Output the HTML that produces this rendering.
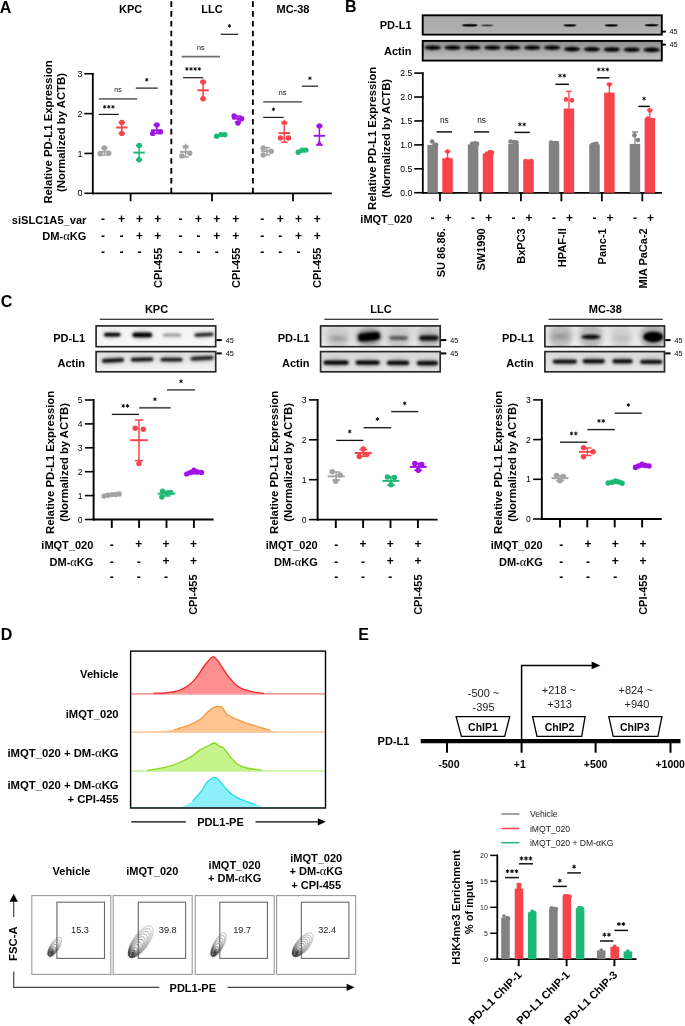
<!DOCTYPE html><html><head><meta charset="utf-8"><style>html,body{margin:0;padding:0;background:#fff;}svg{display:block;will-change:transform;filter:blur(0.3px);} text{font-family:"Liberation Sans",sans-serif;}</style></head><body><svg width="685" height="1026" viewBox="0 0 685 1026">
<defs><filter id="b1" x="-50%" y="-100%" width="200%" height="300%"><feGaussianBlur stdDeviation="1.2"/></filter><filter id="b2" x="-50%" y="-100%" width="200%" height="300%"><feGaussianBlur stdDeviation="2"/></filter><filter id="b4" x="-50%" y="-100%" width="200%" height="300%"><feGaussianBlur stdDeviation="0.55"/></filter><filter id="b3" x="-50%" y="-100%" width="200%" height="300%"><feGaussianBlur stdDeviation="0.8"/></filter></defs>
<rect width="685" height="1026" fill="#fff"/>
<text x="-0.30" y="12.60" font-family="Liberation Sans" font-weight="bold" font-size="16" text-anchor="start" fill="#000" >A</text>
<text x="130.60" y="12.75" font-family="Liberation Sans" font-weight="bold" font-size="11" text-anchor="middle" fill="#000" >KPC</text>
<text x="212.00" y="12.75" font-family="Liberation Sans" font-weight="bold" font-size="11" text-anchor="middle" fill="#000" >LLC</text>
<text x="293.00" y="12.75" font-family="Liberation Sans" font-weight="bold" font-size="11" text-anchor="middle" fill="#000" >MC-38</text>
<line x1="171.30" y1="1.30" x2="171.30" y2="193.40" stroke="#000" stroke-width="1.9" stroke-dasharray="5.6,4.21"/>
<line x1="252.90" y1="1.30" x2="252.90" y2="193.40" stroke="#000" stroke-width="1.9" stroke-dasharray="5.6,4.21"/>
<line x1="92.80" y1="73.00" x2="92.80" y2="194.20" stroke="#000" stroke-width="1.8" />
<line x1="92.00" y1="193.40" x2="331.80" y2="193.40" stroke="#000" stroke-width="1.8" />
<line x1="84.30" y1="193.30" x2="93.50" y2="193.30" stroke="#000" stroke-width="1.6" />
<text x="82.60" y="196.45" font-family="Liberation Sans" font-size="9" text-anchor="end" fill="#000" >0</text>
<line x1="84.30" y1="153.45" x2="93.50" y2="153.45" stroke="#000" stroke-width="1.6" />
<text x="82.60" y="156.60" font-family="Liberation Sans" font-size="9" text-anchor="end" fill="#000" >1</text>
<line x1="84.30" y1="113.60" x2="93.50" y2="113.60" stroke="#000" stroke-width="1.6" />
<text x="82.60" y="116.75" font-family="Liberation Sans" font-size="9" text-anchor="end" fill="#000" >2</text>
<line x1="84.30" y1="73.75" x2="93.50" y2="73.75" stroke="#000" stroke-width="1.6" />
<text x="82.60" y="76.90" font-family="Liberation Sans" font-size="9" text-anchor="end" fill="#000" >3</text>
<line x1="130.60" y1="193.40" x2="130.60" y2="201.20" stroke="#000" stroke-width="1.8" />
<line x1="212.00" y1="193.40" x2="212.00" y2="201.20" stroke="#000" stroke-width="1.8" />
<line x1="293.00" y1="193.40" x2="293.00" y2="201.20" stroke="#000" stroke-width="1.8" />
<text transform="translate(48.10,132.00) rotate(-90)" x="0" y="3.96" font-family="Liberation Sans" font-weight="bold" font-size="11.3" text-anchor="middle" fill="#000">Relative PD-L1 Expression</text>
<text transform="translate(61.00,132.50) rotate(-90)" x="0" y="3.96" font-family="Liberation Sans" font-weight="bold" font-size="11.3" text-anchor="middle" fill="#000">(Normalized by ACTB)</text>
<line x1="104.40" y1="148.00" x2="104.40" y2="155.00" stroke="#a3a3a3" stroke-width="1.5" />
<line x1="101.20" y1="148.00" x2="107.60" y2="148.00" stroke="#a3a3a3" stroke-width="1.5" />
<line x1="101.20" y1="155.00" x2="107.60" y2="155.00" stroke="#a3a3a3" stroke-width="1.5" />
<circle cx="104.40" cy="147.90" r="2.70" fill="#a3a3a3"/>
<circle cx="100.10" cy="153.80" r="2.70" fill="#a3a3a3"/>
<circle cx="108.80" cy="153.30" r="2.70" fill="#a3a3a3"/>
<line x1="98.70" y1="151.80" x2="110.10" y2="151.80" stroke="#a3a3a3" stroke-width="1.9500000000000002" />
<line x1="121.80" y1="122.40" x2="121.80" y2="133.40" stroke="#f7434a" stroke-width="1.5" />
<line x1="118.60" y1="122.40" x2="125.00" y2="122.40" stroke="#f7434a" stroke-width="1.5" />
<line x1="118.60" y1="133.40" x2="125.00" y2="133.40" stroke="#f7434a" stroke-width="1.5" />
<circle cx="121.80" cy="122.40" r="2.70" fill="#f7434a"/>
<circle cx="121.80" cy="133.40" r="2.70" fill="#f7434a"/>
<line x1="116.10" y1="127.50" x2="127.50" y2="127.50" stroke="#f7434a" stroke-width="1.9500000000000002" />
<line x1="139.10" y1="145.50" x2="139.10" y2="159.80" stroke="#1fb976" stroke-width="1.5" />
<line x1="135.90" y1="145.50" x2="142.30" y2="145.50" stroke="#1fb976" stroke-width="1.5" />
<line x1="135.90" y1="159.80" x2="142.30" y2="159.80" stroke="#1fb976" stroke-width="1.5" />
<circle cx="139.10" cy="145.50" r="2.70" fill="#1fb976"/>
<circle cx="139.10" cy="159.80" r="2.70" fill="#1fb976"/>
<line x1="133.40" y1="152.60" x2="144.80" y2="152.60" stroke="#1fb976" stroke-width="1.9500000000000002" />
<line x1="156.80" y1="124.70" x2="156.80" y2="133.40" stroke="#a112e6" stroke-width="1.5" />
<line x1="153.60" y1="124.70" x2="160.00" y2="124.70" stroke="#a112e6" stroke-width="1.5" />
<line x1="153.60" y1="133.40" x2="160.00" y2="133.40" stroke="#a112e6" stroke-width="1.5" />
<circle cx="156.80" cy="124.90" r="2.70" fill="#a112e6"/>
<circle cx="152.70" cy="133.40" r="2.70" fill="#a112e6"/>
<circle cx="160.40" cy="131.90" r="2.70" fill="#a112e6"/>
<line x1="151.10" y1="130.30" x2="162.50" y2="130.30" stroke="#a112e6" stroke-width="1.9500000000000002" />
<line x1="185.60" y1="146.10" x2="185.60" y2="157.00" stroke="#a3a3a3" stroke-width="1.5" />
<line x1="182.40" y1="146.10" x2="188.80" y2="146.10" stroke="#a3a3a3" stroke-width="1.5" />
<line x1="182.40" y1="157.00" x2="188.80" y2="157.00" stroke="#a3a3a3" stroke-width="1.5" />
<path d="M185.60,143.26 L188.86,148.51 L182.34,148.51 Z" fill="#a3a3a3"/>
<circle cx="181.80" cy="156.00" r="2.70" fill="#a3a3a3"/>
<circle cx="189.80" cy="153.20" r="2.70" fill="#a3a3a3"/>
<line x1="179.90" y1="151.90" x2="191.30" y2="151.90" stroke="#a3a3a3" stroke-width="1.9500000000000002" />
<line x1="203.10" y1="82.00" x2="203.10" y2="98.70" stroke="#f7434a" stroke-width="1.5" />
<line x1="199.90" y1="82.00" x2="206.30" y2="82.00" stroke="#f7434a" stroke-width="1.5" />
<line x1="199.90" y1="98.70" x2="206.30" y2="98.70" stroke="#f7434a" stroke-width="1.5" />
<circle cx="203.10" cy="82.00" r="2.70" fill="#f7434a"/>
<circle cx="203.10" cy="98.70" r="2.70" fill="#f7434a"/>
<line x1="197.40" y1="90.30" x2="208.80" y2="90.30" stroke="#f7434a" stroke-width="1.9500000000000002" />
<line x1="221.00" y1="134.80" x2="221.00" y2="135.60" stroke="#1fb976" stroke-width="1.5" />
<line x1="217.80" y1="134.80" x2="224.20" y2="134.80" stroke="#1fb976" stroke-width="1.5" />
<line x1="217.80" y1="135.60" x2="224.20" y2="135.60" stroke="#1fb976" stroke-width="1.5" />
<circle cx="216.60" cy="136.20" r="2.70" fill="#1fb976"/>
<circle cx="221.00" cy="134.60" r="2.70" fill="#1fb976"/>
<circle cx="224.80" cy="134.80" r="2.70" fill="#1fb976"/>
<line x1="215.30" y1="135.20" x2="226.70" y2="135.20" stroke="#1fb976" stroke-width="1.9500000000000002" />
<line x1="238.00" y1="116.00" x2="238.00" y2="122.00" stroke="#a112e6" stroke-width="1.5" />
<line x1="234.80" y1="116.00" x2="241.20" y2="116.00" stroke="#a112e6" stroke-width="1.5" />
<line x1="234.80" y1="122.00" x2="241.20" y2="122.00" stroke="#a112e6" stroke-width="1.5" />
<circle cx="234.10" cy="116.00" r="2.70" fill="#a112e6"/>
<circle cx="241.60" cy="118.70" r="2.70" fill="#a112e6"/>
<circle cx="238.00" cy="123.00" r="2.70" fill="#a112e6"/>
<line x1="232.30" y1="118.70" x2="243.70" y2="118.70" stroke="#a112e6" stroke-width="1.9500000000000002" />
<line x1="267.00" y1="147.60" x2="267.00" y2="154.80" stroke="#a3a3a3" stroke-width="1.5" />
<line x1="263.80" y1="147.60" x2="270.20" y2="147.60" stroke="#a3a3a3" stroke-width="1.5" />
<line x1="263.80" y1="154.80" x2="270.20" y2="154.80" stroke="#a3a3a3" stroke-width="1.5" />
<circle cx="263.20" cy="147.90" r="2.70" fill="#a3a3a3"/>
<circle cx="263.20" cy="155.00" r="2.70" fill="#a3a3a3"/>
<circle cx="271.20" cy="151.20" r="2.70" fill="#a3a3a3"/>
<line x1="261.30" y1="151.20" x2="272.70" y2="151.20" stroke="#a3a3a3" stroke-width="1.9500000000000002" />
<line x1="284.30" y1="122.20" x2="284.30" y2="142.20" stroke="#f7434a" stroke-width="1.5" />
<line x1="281.10" y1="122.20" x2="287.50" y2="122.20" stroke="#f7434a" stroke-width="1.5" />
<line x1="281.10" y1="142.20" x2="287.50" y2="142.20" stroke="#f7434a" stroke-width="1.5" />
<path d="M284.30,119.37 L287.56,124.61 L281.04,124.61 Z" fill="#f7434a"/>
<circle cx="280.40" cy="138.00" r="2.70" fill="#f7434a"/>
<circle cx="288.40" cy="138.00" r="2.70" fill="#f7434a"/>
<line x1="278.60" y1="133.10" x2="290.00" y2="133.10" stroke="#f7434a" stroke-width="1.9500000000000002" />
<line x1="302.00" y1="150.30" x2="302.00" y2="151.70" stroke="#1fb976" stroke-width="1.5" />
<line x1="298.80" y1="150.30" x2="305.20" y2="150.30" stroke="#1fb976" stroke-width="1.5" />
<line x1="298.80" y1="151.70" x2="305.20" y2="151.70" stroke="#1fb976" stroke-width="1.5" />
<circle cx="298.20" cy="152.30" r="2.70" fill="#1fb976"/>
<circle cx="302.10" cy="150.10" r="2.70" fill="#1fb976"/>
<circle cx="305.90" cy="150.10" r="2.70" fill="#1fb976"/>
<line x1="296.30" y1="151.00" x2="307.70" y2="151.00" stroke="#1fb976" stroke-width="1.9500000000000002" />
<line x1="319.40" y1="126.00" x2="319.40" y2="145.00" stroke="#a112e6" stroke-width="1.5" />
<line x1="316.20" y1="126.00" x2="322.60" y2="126.00" stroke="#a112e6" stroke-width="1.5" />
<line x1="316.20" y1="145.00" x2="322.60" y2="145.00" stroke="#a112e6" stroke-width="1.5" />
<circle cx="319.40" cy="126.00" r="2.70" fill="#a112e6"/>
<path d="M319.40,140.36 L322.66,145.61 L316.14,145.61 Z" fill="#a112e6"/>
<line x1="313.70" y1="135.80" x2="325.10" y2="135.80" stroke="#a112e6" stroke-width="1.9500000000000002" />
<line x1="98.80" y1="114.40" x2="118.80" y2="114.40" stroke="#1a1a1a" stroke-width="1.2" />
<path d="M104.67,105.37 L104.67,108.23 M103.43,106.08 L105.91,107.52 M105.91,106.08 L103.43,107.52 " stroke="#111" stroke-width="0.93" stroke-linecap="round"/>
<circle cx="104.67" cy="106.80" r="0.74" fill="#111"/>
<path d="M108.80,105.37 L108.80,108.23 M107.56,106.08 L110.04,107.52 M110.04,106.08 L107.56,107.52 " stroke="#111" stroke-width="0.93" stroke-linecap="round"/>
<circle cx="108.80" cy="106.80" r="0.74" fill="#111"/>
<path d="M112.93,105.37 L112.93,108.23 M111.69,106.08 L114.17,107.52 M114.17,106.08 L111.69,107.52 " stroke="#111" stroke-width="0.93" stroke-linecap="round"/>
<circle cx="112.93" cy="106.80" r="0.74" fill="#111"/>
<line x1="98.80" y1="98.90" x2="137.20" y2="98.90" stroke="#6f6f6f" stroke-width="1.8" />
<text x="118.00" y="91.54" font-family="Liberation Sans" font-size="7.2" text-anchor="middle" fill="#111" >ns</text>
<line x1="135.80" y1="88.10" x2="157.70" y2="88.10" stroke="#1a1a1a" stroke-width="1.2" />
<path d="M146.75,78.27 L146.75,81.13 M145.51,78.98 L147.99,80.42 M147.99,78.98 L145.51,80.42 " stroke="#111" stroke-width="0.93" stroke-linecap="round"/>
<circle cx="146.75" cy="79.70" r="0.74" fill="#111"/>
<line x1="183.00" y1="77.70" x2="203.20" y2="77.70" stroke="#1a1a1a" stroke-width="1.2" />
<path d="M186.90,67.47 L186.90,70.33 M185.66,68.18 L188.14,69.62 M188.14,68.18 L185.66,69.62 " stroke="#111" stroke-width="0.93" stroke-linecap="round"/>
<circle cx="186.90" cy="68.90" r="0.74" fill="#111"/>
<path d="M191.03,67.47 L191.03,70.33 M189.79,68.18 L192.27,69.62 M192.27,68.18 L189.79,69.62 " stroke="#111" stroke-width="0.93" stroke-linecap="round"/>
<circle cx="191.03" cy="68.90" r="0.74" fill="#111"/>
<path d="M195.17,67.47 L195.17,70.33 M193.93,68.18 L196.41,69.62 M196.41,68.18 L193.93,69.62 " stroke="#111" stroke-width="0.93" stroke-linecap="round"/>
<circle cx="195.17" cy="68.90" r="0.74" fill="#111"/>
<path d="M199.30,67.47 L199.30,70.33 M198.06,68.18 L200.54,69.62 M200.54,68.18 L198.06,69.62 " stroke="#111" stroke-width="0.93" stroke-linecap="round"/>
<circle cx="199.30" cy="68.90" r="0.74" fill="#111"/>
<line x1="181.60" y1="56.70" x2="220.00" y2="56.70" stroke="#6f6f6f" stroke-width="1.8" />
<text x="200.80" y="49.54" font-family="Liberation Sans" font-size="7.2" text-anchor="middle" fill="#111" >ns</text>
<line x1="220.80" y1="34.30" x2="238.10" y2="34.30" stroke="#1a1a1a" stroke-width="1.2" />
<path d="M229.45,24.47 L229.45,27.33 M228.21,25.18 L230.69,26.62 M230.69,25.18 L228.21,26.62 " stroke="#111" stroke-width="0.93" stroke-linecap="round"/>
<circle cx="229.45" cy="25.90" r="0.74" fill="#111"/>
<line x1="263.20" y1="117.40" x2="283.70" y2="117.40" stroke="#1a1a1a" stroke-width="1.2" />
<path d="M273.45,107.87 L273.45,110.73 M272.21,108.58 L274.69,110.02 M274.69,108.58 L272.21,110.02 " stroke="#111" stroke-width="0.93" stroke-linecap="round"/>
<circle cx="273.45" cy="109.30" r="0.74" fill="#111"/>
<line x1="263.20" y1="101.90" x2="301.90" y2="101.90" stroke="#6f6f6f" stroke-width="1.8" />
<text x="282.55" y="94.74" font-family="Liberation Sans" font-size="7.2" text-anchor="middle" fill="#111" >ns</text>
<line x1="301.90" y1="86.20" x2="318.00" y2="86.20" stroke="#1a1a1a" stroke-width="1.2" />
<path d="M309.95,76.87 L309.95,79.73 M308.71,77.58 L311.19,79.02 M311.19,77.58 L308.71,79.02 " stroke="#111" stroke-width="0.93" stroke-linecap="round"/>
<circle cx="309.95" cy="78.30" r="0.74" fill="#111"/>
<text x="103.00" y="223.42" font-family="Liberation Sans" font-weight="bold" font-size="12" text-anchor="middle" fill="#000" >-</text>
<text x="121.50" y="222.76" font-family="Liberation Sans" font-weight="bold" font-size="12" text-anchor="middle" fill="#000" >+</text>
<text x="139.40" y="222.76" font-family="Liberation Sans" font-weight="bold" font-size="12" text-anchor="middle" fill="#000" >+</text>
<text x="157.80" y="222.76" font-family="Liberation Sans" font-weight="bold" font-size="12" text-anchor="middle" fill="#000" >+</text>
<text x="103.00" y="240.22" font-family="Liberation Sans" font-weight="bold" font-size="12" text-anchor="middle" fill="#000" >-</text>
<text x="121.50" y="240.22" font-family="Liberation Sans" font-weight="bold" font-size="12" text-anchor="middle" fill="#000" >-</text>
<text x="139.40" y="239.56" font-family="Liberation Sans" font-weight="bold" font-size="12" text-anchor="middle" fill="#000" >+</text>
<text x="157.80" y="239.56" font-family="Liberation Sans" font-weight="bold" font-size="12" text-anchor="middle" fill="#000" >+</text>
<text x="103.00" y="255.52" font-family="Liberation Sans" font-weight="bold" font-size="12" text-anchor="middle" fill="#000" >-</text>
<text x="121.50" y="255.52" font-family="Liberation Sans" font-weight="bold" font-size="12" text-anchor="middle" fill="#000" >-</text>
<text x="139.40" y="255.52" font-family="Liberation Sans" font-weight="bold" font-size="12" text-anchor="middle" fill="#000" >-</text>
<text transform="translate(157.80,247.60) rotate(-90)" x="0" y="3.85" font-family="Liberation Sans" font-weight="bold" font-size="11" text-anchor="end" fill="#000">CPI-455</text>
<text x="180.60" y="223.42" font-family="Liberation Sans" font-weight="bold" font-size="12" text-anchor="middle" fill="#000" >-</text>
<text x="198.60" y="222.76" font-family="Liberation Sans" font-weight="bold" font-size="12" text-anchor="middle" fill="#000" >+</text>
<text x="216.80" y="222.76" font-family="Liberation Sans" font-weight="bold" font-size="12" text-anchor="middle" fill="#000" >+</text>
<text x="235.80" y="222.76" font-family="Liberation Sans" font-weight="bold" font-size="12" text-anchor="middle" fill="#000" >+</text>
<text x="180.60" y="240.22" font-family="Liberation Sans" font-weight="bold" font-size="12" text-anchor="middle" fill="#000" >-</text>
<text x="198.60" y="240.22" font-family="Liberation Sans" font-weight="bold" font-size="12" text-anchor="middle" fill="#000" >-</text>
<text x="216.80" y="239.56" font-family="Liberation Sans" font-weight="bold" font-size="12" text-anchor="middle" fill="#000" >+</text>
<text x="235.80" y="239.56" font-family="Liberation Sans" font-weight="bold" font-size="12" text-anchor="middle" fill="#000" >+</text>
<text x="180.60" y="255.52" font-family="Liberation Sans" font-weight="bold" font-size="12" text-anchor="middle" fill="#000" >-</text>
<text x="198.60" y="255.52" font-family="Liberation Sans" font-weight="bold" font-size="12" text-anchor="middle" fill="#000" >-</text>
<text x="216.80" y="255.52" font-family="Liberation Sans" font-weight="bold" font-size="12" text-anchor="middle" fill="#000" >-</text>
<text transform="translate(235.80,247.60) rotate(-90)" x="0" y="3.85" font-family="Liberation Sans" font-weight="bold" font-size="11" text-anchor="end" fill="#000">CPI-455</text>
<text x="262.30" y="223.42" font-family="Liberation Sans" font-weight="bold" font-size="12" text-anchor="middle" fill="#000" >-</text>
<text x="280.30" y="222.76" font-family="Liberation Sans" font-weight="bold" font-size="12" text-anchor="middle" fill="#000" >+</text>
<text x="298.50" y="222.76" font-family="Liberation Sans" font-weight="bold" font-size="12" text-anchor="middle" fill="#000" >+</text>
<text x="317.30" y="222.76" font-family="Liberation Sans" font-weight="bold" font-size="12" text-anchor="middle" fill="#000" >+</text>
<text x="262.30" y="240.22" font-family="Liberation Sans" font-weight="bold" font-size="12" text-anchor="middle" fill="#000" >-</text>
<text x="280.30" y="240.22" font-family="Liberation Sans" font-weight="bold" font-size="12" text-anchor="middle" fill="#000" >-</text>
<text x="298.50" y="239.56" font-family="Liberation Sans" font-weight="bold" font-size="12" text-anchor="middle" fill="#000" >+</text>
<text x="317.30" y="239.56" font-family="Liberation Sans" font-weight="bold" font-size="12" text-anchor="middle" fill="#000" >+</text>
<text x="262.30" y="255.52" font-family="Liberation Sans" font-weight="bold" font-size="12" text-anchor="middle" fill="#000" >-</text>
<text x="280.30" y="255.52" font-family="Liberation Sans" font-weight="bold" font-size="12" text-anchor="middle" fill="#000" >-</text>
<text x="298.50" y="255.52" font-family="Liberation Sans" font-weight="bold" font-size="12" text-anchor="middle" fill="#000" >-</text>
<text transform="translate(317.30,247.60) rotate(-90)" x="0" y="3.85" font-family="Liberation Sans" font-weight="bold" font-size="11" text-anchor="end" fill="#000">CPI-455</text>
<text x="86.40" y="224.00" font-family="Liberation Sans" font-weight="bold" font-size="11.1" text-anchor="end" fill="#000" >siSLC1A5_var</text>
<text x="86.40" y="240.00" font-family="Liberation Sans" font-weight="bold" font-size="11.1" text-anchor="end" fill="#000" >DM-<tspan font-family="Liberation Serif" font-weight="normal" font-size="1.12em">&#945;</tspan>KG</text>
<text x="344.90" y="11.80" font-family="Liberation Sans" font-weight="bold" font-size="16" text-anchor="start" fill="#000" >B</text>
<text x="411.50" y="29.35" font-family="Liberation Sans" font-weight="bold" font-size="11" text-anchor="end" fill="#000" >PD-L1</text>
<text x="411.50" y="54.65" font-family="Liberation Sans" font-weight="bold" font-size="11" text-anchor="end" fill="#000" >Actin</text>
<svg x="422.70" y="15.30" width="239.10" height="19.30" overflow="hidden">
<defs><linearGradient id="gB1" x1="0" y1="0" x2="0" y2="1"><stop offset="0" stop-color="#a9a9a9"/><stop offset="0.85" stop-color="#b0b0b0"/><stop offset="1" stop-color="#cfcfcf"/></linearGradient></defs>
<rect x="0.00" y="0.00" width="239.10" height="19.30" fill="url(#gB1)" stroke="none" stroke-width="1" />
<ellipse cx="47.10" cy="10.00" rx="8.00" ry="1.30" fill="#000" filter="url(#b4)"/>
<ellipse cx="64.50" cy="10.10" rx="6.50" ry="0.95" fill="#333" filter="url(#b4)"/>
<ellipse cx="147.20" cy="10.10" rx="6.50" ry="1.10" fill="#000" filter="url(#b4)"/>
<ellipse cx="188.60" cy="10.10" rx="6.75" ry="1.10" fill="#000" filter="url(#b4)"/>
<ellipse cx="228.80" cy="9.90" rx="6.75" ry="1.10" fill="#000" filter="url(#b4)"/>
</svg>
<rect x="422.70" y="15.30" width="239.10" height="19.30" fill="none" stroke="#000" stroke-width="1.9" />
<svg x="422.70" y="40.90" width="239.10" height="19.70" overflow="hidden">
<defs><linearGradient id="gB2" x1="0" y1="0" x2="0" y2="1"><stop offset="0" stop-color="#8f8f8f"/><stop offset="0.5" stop-color="#a8a8a8"/><stop offset="1" stop-color="#c4c4c4"/></linearGradient></defs>
<rect x="0.00" y="0.00" width="239.10" height="19.70" fill="url(#gB2)" stroke="none" stroke-width="1" />
<ellipse cx="10.00" cy="6.70" rx="8.25" ry="2.30" fill="#000" filter="url(#b1)"/>
<ellipse cx="29.90" cy="6.70" rx="8.25" ry="2.30" fill="#000" filter="url(#b1)"/>
<ellipse cx="49.80" cy="6.70" rx="8.25" ry="2.30" fill="#000" filter="url(#b1)"/>
<ellipse cx="69.70" cy="6.70" rx="8.25" ry="2.30" fill="#000" filter="url(#b1)"/>
<ellipse cx="89.60" cy="6.70" rx="8.25" ry="2.30" fill="#000" filter="url(#b1)"/>
<ellipse cx="109.50" cy="6.70" rx="8.25" ry="2.30" fill="#000" filter="url(#b1)"/>
<ellipse cx="129.40" cy="6.70" rx="8.25" ry="2.30" fill="#000" filter="url(#b1)"/>
<ellipse cx="149.30" cy="8.10" rx="8.25" ry="2.30" fill="#000" filter="url(#b1)"/>
<ellipse cx="169.20" cy="8.30" rx="8.25" ry="2.30" fill="#000" filter="url(#b1)"/>
<ellipse cx="189.10" cy="8.50" rx="8.25" ry="2.30" fill="#000" filter="url(#b1)"/>
<ellipse cx="209.00" cy="8.70" rx="8.25" ry="2.30" fill="#000" filter="url(#b1)"/>
<ellipse cx="228.90" cy="8.90" rx="8.25" ry="2.30" fill="#000" filter="url(#b1)"/>
</svg>
<rect x="422.70" y="40.90" width="239.10" height="19.70" fill="none" stroke="#000" stroke-width="1.9" />
<line x1="662.00" y1="31.60" x2="665.80" y2="31.60" stroke="#000" stroke-width="2" />
<text x="669.40" y="34.10" font-family="Liberation Sans" font-size="7.2" text-anchor="start" fill="#000" >45</text>
<line x1="662.00" y1="44.60" x2="665.80" y2="44.60" stroke="#000" stroke-width="2" />
<text x="669.40" y="47.10" font-family="Liberation Sans" font-size="7.2" text-anchor="start" fill="#000" >45</text>
<line x1="422.80" y1="72.40" x2="422.80" y2="193.50" stroke="#000" stroke-width="1.8" />
<line x1="422.00" y1="192.80" x2="662.00" y2="192.80" stroke="#000" stroke-width="1.8" />
<line x1="414.20" y1="192.70" x2="423.50" y2="192.70" stroke="#000" stroke-width="1.6" />
<text x="412.30" y="195.71" font-family="Liberation Sans" font-size="8.6" text-anchor="end" fill="#000" >0.0</text>
<line x1="414.20" y1="168.78" x2="423.50" y2="168.78" stroke="#000" stroke-width="1.6" />
<text x="412.30" y="171.79" font-family="Liberation Sans" font-size="8.6" text-anchor="end" fill="#000" >0.5</text>
<line x1="414.20" y1="144.86" x2="423.50" y2="144.86" stroke="#000" stroke-width="1.6" />
<text x="412.30" y="147.87" font-family="Liberation Sans" font-size="8.6" text-anchor="end" fill="#000" >1.0</text>
<line x1="414.20" y1="120.94" x2="423.50" y2="120.94" stroke="#000" stroke-width="1.6" />
<text x="412.30" y="123.95" font-family="Liberation Sans" font-size="8.6" text-anchor="end" fill="#000" >1.5</text>
<line x1="414.20" y1="97.02" x2="423.50" y2="97.02" stroke="#000" stroke-width="1.6" />
<text x="412.30" y="100.03" font-family="Liberation Sans" font-size="8.6" text-anchor="end" fill="#000" >2.0</text>
<line x1="414.20" y1="73.10" x2="423.50" y2="73.10" stroke="#000" stroke-width="1.6" />
<text x="412.30" y="76.11" font-family="Liberation Sans" font-size="8.6" text-anchor="end" fill="#000" >2.5</text>
<text transform="translate(372.40,138.30) rotate(-90)" x="0" y="3.96" font-family="Liberation Sans" font-weight="bold" font-size="11.3" text-anchor="middle" fill="#000">Relative PD-L1 Expression</text>
<text transform="translate(386.00,138.30) rotate(-90)" x="0" y="3.96" font-family="Liberation Sans" font-weight="bold" font-size="11.3" text-anchor="middle" fill="#000">(Normalized by ACTB)</text>
<rect x="427.40" y="144.86" width="10.50" height="47.94" fill="#828282" stroke="none" stroke-width="1" />
<circle cx="432.15" cy="141.51" r="2.30" fill="#828282"/>
<circle cx="434.65" cy="144.86" r="2.30" fill="#828282"/>
<circle cx="436.15" cy="144.86" r="2.30" fill="#828282"/>
<rect x="442.30" y="158.26" width="10.50" height="34.54" fill="#f7434a" stroke="none" stroke-width="1" />
<line x1="447.55" y1="151.56" x2="447.55" y2="158.26" stroke="#f7434a" stroke-width="1.3" />
<line x1="444.55" y1="151.56" x2="450.55" y2="151.56" stroke="#f7434a" stroke-width="1.3" />
<circle cx="447.55" cy="151.56" r="2.30" fill="#f7434a"/>
<circle cx="447.55" cy="159.21" r="2.30" fill="#f7434a"/>
<circle cx="447.55" cy="161.13" r="2.30" fill="#f7434a"/>
<rect x="467.86" y="144.38" width="10.50" height="48.42" fill="#828282" stroke="none" stroke-width="1" />
<circle cx="472.11" cy="143.90" r="2.30" fill="#828282"/>
<circle cx="475.11" cy="143.42" r="2.30" fill="#828282"/>
<circle cx="477.11" cy="143.90" r="2.30" fill="#828282"/>
<rect x="482.76" y="153.47" width="10.50" height="39.33" fill="#f7434a" stroke="none" stroke-width="1" />
<circle cx="487.01" cy="153.47" r="2.30" fill="#f7434a"/>
<circle cx="490.01" cy="152.04" r="2.30" fill="#f7434a"/>
<circle cx="492.01" cy="152.51" r="2.30" fill="#f7434a"/>
<rect x="508.32" y="143.90" width="10.50" height="48.90" fill="#828282" stroke="none" stroke-width="1" />
<circle cx="510.57" cy="141.51" r="2.30" fill="#828282"/>
<circle cx="514.07" cy="141.99" r="2.30" fill="#828282"/>
<circle cx="516.57" cy="142.47" r="2.30" fill="#828282"/>
<rect x="523.22" y="161.60" width="10.50" height="31.20" fill="#f7434a" stroke="none" stroke-width="1" />
<circle cx="525.47" cy="161.13" r="2.30" fill="#f7434a"/>
<circle cx="528.47" cy="161.60" r="2.30" fill="#f7434a"/>
<circle cx="531.47" cy="161.13" r="2.30" fill="#f7434a"/>
<rect x="548.78" y="143.90" width="10.50" height="48.90" fill="#828282" stroke="none" stroke-width="1" />
<circle cx="551.03" cy="142.47" r="2.30" fill="#828282"/>
<circle cx="554.03" cy="142.95" r="2.30" fill="#828282"/>
<circle cx="557.03" cy="142.95" r="2.30" fill="#828282"/>
<rect x="563.68" y="108.50" width="10.50" height="84.30" fill="#f7434a" stroke="none" stroke-width="1" />
<line x1="568.93" y1="91.28" x2="568.93" y2="108.50" stroke="#f7434a" stroke-width="1.3" />
<line x1="565.93" y1="91.28" x2="571.93" y2="91.28" stroke="#f7434a" stroke-width="1.3" />
<circle cx="565.93" cy="99.41" r="2.30" fill="#f7434a"/>
<circle cx="571.93" cy="100.37" r="2.30" fill="#f7434a"/>
<circle cx="568.93" cy="123.33" r="2.30" fill="#f7434a"/>
<rect x="589.24" y="144.38" width="10.50" height="48.42" fill="#828282" stroke="none" stroke-width="1" />
<circle cx="592.49" cy="144.86" r="2.30" fill="#828282"/>
<circle cx="594.49" cy="144.38" r="2.30" fill="#828282"/>
<circle cx="596.49" cy="143.90" r="2.30" fill="#828282"/>
<rect x="604.14" y="92.71" width="10.50" height="100.09" fill="#f7434a" stroke="none" stroke-width="1" />
<line x1="609.39" y1="83.62" x2="609.39" y2="92.71" stroke="#f7434a" stroke-width="1.3" />
<line x1="606.39" y1="83.62" x2="612.39" y2="83.62" stroke="#f7434a" stroke-width="1.3" />
<circle cx="609.39" cy="84.58" r="2.30" fill="#f7434a"/>
<circle cx="609.39" cy="94.63" r="2.30" fill="#f7434a"/>
<circle cx="609.39" cy="97.02" r="2.30" fill="#f7434a"/>
<rect x="629.70" y="143.90" width="10.50" height="48.90" fill="#828282" stroke="none" stroke-width="1" />
<line x1="634.95" y1="131.94" x2="634.95" y2="143.90" stroke="#828282" stroke-width="1.3" />
<line x1="631.95" y1="131.94" x2="637.95" y2="131.94" stroke="#828282" stroke-width="1.3" />
<circle cx="634.45" cy="135.29" r="2.30" fill="#828282"/>
<circle cx="637.95" cy="140.08" r="2.30" fill="#828282"/>
<circle cx="634.95" cy="149.64" r="2.30" fill="#828282"/>
<rect x="644.60" y="118.07" width="10.50" height="74.73" fill="#f7434a" stroke="none" stroke-width="1" />
<line x1="649.85" y1="109.94" x2="649.85" y2="118.07" stroke="#f7434a" stroke-width="1.3" />
<line x1="646.85" y1="109.94" x2="652.85" y2="109.94" stroke="#f7434a" stroke-width="1.3" />
<circle cx="649.85" cy="110.42" r="2.30" fill="#f7434a"/>
<circle cx="649.85" cy="120.94" r="2.30" fill="#f7434a"/>
<circle cx="647.85" cy="118.55" r="2.30" fill="#f7434a"/>
<line x1="440.00" y1="192.80" x2="440.00" y2="201.30" stroke="#000" stroke-width="1.8" />
<line x1="480.46" y1="192.80" x2="480.46" y2="201.30" stroke="#000" stroke-width="1.8" />
<line x1="520.92" y1="192.80" x2="520.92" y2="201.30" stroke="#000" stroke-width="1.8" />
<line x1="561.38" y1="192.80" x2="561.38" y2="201.30" stroke="#000" stroke-width="1.8" />
<line x1="601.84" y1="192.80" x2="601.84" y2="201.30" stroke="#000" stroke-width="1.8" />
<line x1="642.30" y1="192.80" x2="642.30" y2="201.30" stroke="#000" stroke-width="1.8" />
<line x1="436.60" y1="131.90" x2="452.00" y2="131.90" stroke="#111" stroke-width="1.5" />
<text x="444.30" y="123.14" font-family="Liberation Sans" font-size="8.3" text-anchor="middle" fill="#111" >ns</text>
<line x1="474.00" y1="131.90" x2="489.20" y2="131.90" stroke="#111" stroke-width="1.5" />
<text x="481.60" y="123.14" font-family="Liberation Sans" font-size="8.3" text-anchor="middle" fill="#111" >ns</text>
<line x1="514.30" y1="132.40" x2="529.80" y2="132.40" stroke="#111" stroke-width="1.5" />
<path d="M519.90,122.92 L519.90,125.89 M518.62,123.66 L521.19,125.14 M521.19,123.66 L518.62,125.14 " stroke="#111" stroke-width="0.97" stroke-linecap="round"/>
<circle cx="519.90" cy="124.40" r="0.77" fill="#111"/>
<path d="M524.19,122.92 L524.19,125.89 M522.91,123.66 L525.48,125.14 M525.48,123.66 L522.91,125.14 " stroke="#111" stroke-width="0.97" stroke-linecap="round"/>
<circle cx="524.19" cy="124.40" r="0.77" fill="#111"/>
<line x1="555.40" y1="84.30" x2="568.90" y2="84.30" stroke="#111" stroke-width="1.5" />
<path d="M560.00,74.11 L560.00,77.08 M558.72,74.86 L561.29,76.34 M561.29,74.86 L558.72,76.34 " stroke="#111" stroke-width="0.97" stroke-linecap="round"/>
<circle cx="560.00" cy="75.60" r="0.77" fill="#111"/>
<path d="M564.29,74.11 L564.29,77.08 M563.01,74.86 L565.58,76.34 M565.58,74.86 L563.01,76.34 " stroke="#111" stroke-width="0.97" stroke-linecap="round"/>
<circle cx="564.29" cy="75.60" r="0.77" fill="#111"/>
<line x1="596.70" y1="77.80" x2="609.40" y2="77.80" stroke="#111" stroke-width="1.5" />
<path d="M598.76,68.02 L598.76,70.98 M597.47,68.76 L600.05,70.24 M600.05,68.76 L597.47,70.24 " stroke="#111" stroke-width="0.97" stroke-linecap="round"/>
<circle cx="598.76" cy="69.50" r="0.77" fill="#111"/>
<path d="M603.05,68.02 L603.05,70.98 M601.76,68.76 L604.34,70.24 M604.34,68.76 L601.76,70.24 " stroke="#111" stroke-width="0.97" stroke-linecap="round"/>
<circle cx="603.05" cy="69.50" r="0.77" fill="#111"/>
<path d="M607.34,68.02 L607.34,70.98 M606.05,68.76 L608.63,70.24 M608.63,68.76 L606.05,70.24 " stroke="#111" stroke-width="0.97" stroke-linecap="round"/>
<circle cx="607.34" cy="69.50" r="0.77" fill="#111"/>
<line x1="638.30" y1="106.40" x2="649.90" y2="106.40" stroke="#111" stroke-width="1.5" />
<path d="M644.10,97.11 L644.10,100.08 M642.81,97.86 L645.39,99.34 M645.39,97.86 L642.81,99.34 " stroke="#111" stroke-width="0.97" stroke-linecap="round"/>
<circle cx="644.10" cy="98.60" r="0.77" fill="#111"/>
<text x="412.30" y="222.50" font-family="Liberation Sans" font-weight="bold" font-size="11" text-anchor="end" fill="#000" >iMQT_020</text>
<text x="432.60" y="222.02" font-family="Liberation Sans" font-weight="bold" font-size="12" text-anchor="middle" fill="#000" >-</text>
<text x="448.20" y="222.06" font-family="Liberation Sans" font-weight="bold" font-size="12" text-anchor="middle" fill="#000" >+</text>
<text x="473.06" y="222.02" font-family="Liberation Sans" font-weight="bold" font-size="12" text-anchor="middle" fill="#000" >-</text>
<text x="488.66" y="222.06" font-family="Liberation Sans" font-weight="bold" font-size="12" text-anchor="middle" fill="#000" >+</text>
<text x="513.52" y="222.02" font-family="Liberation Sans" font-weight="bold" font-size="12" text-anchor="middle" fill="#000" >-</text>
<text x="529.12" y="222.06" font-family="Liberation Sans" font-weight="bold" font-size="12" text-anchor="middle" fill="#000" >+</text>
<text x="553.98" y="222.02" font-family="Liberation Sans" font-weight="bold" font-size="12" text-anchor="middle" fill="#000" >-</text>
<text x="569.58" y="222.06" font-family="Liberation Sans" font-weight="bold" font-size="12" text-anchor="middle" fill="#000" >+</text>
<text x="594.44" y="222.02" font-family="Liberation Sans" font-weight="bold" font-size="12" text-anchor="middle" fill="#000" >-</text>
<text x="610.04" y="222.06" font-family="Liberation Sans" font-weight="bold" font-size="12" text-anchor="middle" fill="#000" >+</text>
<text x="634.90" y="222.02" font-family="Liberation Sans" font-weight="bold" font-size="12" text-anchor="middle" fill="#000" >-</text>
<text x="650.50" y="222.06" font-family="Liberation Sans" font-weight="bold" font-size="12" text-anchor="middle" fill="#000" >+</text>
<text transform="translate(440.70,228.30) rotate(-90)" x="0" y="3.85" font-family="Liberation Sans" font-weight="bold" font-size="11" text-anchor="end" fill="#000">SU 86.86.</text>
<text transform="translate(481.16,228.30) rotate(-90)" x="0" y="3.85" font-family="Liberation Sans" font-weight="bold" font-size="11" text-anchor="end" fill="#000">SW1990</text>
<text transform="translate(521.62,228.30) rotate(-90)" x="0" y="3.85" font-family="Liberation Sans" font-weight="bold" font-size="11" text-anchor="end" fill="#000">BxPC3</text>
<text transform="translate(562.08,228.30) rotate(-90)" x="0" y="3.85" font-family="Liberation Sans" font-weight="bold" font-size="11" text-anchor="end" fill="#000">HPAF-II</text>
<text transform="translate(602.54,228.30) rotate(-90)" x="0" y="3.85" font-family="Liberation Sans" font-weight="bold" font-size="11" text-anchor="end" fill="#000">Panc-1</text>
<text transform="translate(643.00,228.30) rotate(-90)" x="0" y="3.85" font-family="Liberation Sans" font-weight="bold" font-size="11" text-anchor="end" fill="#000">MIA PaCa-2</text>
<text x="0.70" y="306.90" font-family="Liberation Sans" font-weight="bold" font-size="16" text-anchor="start" fill="#000" >C</text>
<text x="156.50" y="312.85" font-family="Liberation Sans" font-weight="bold" font-size="11" text-anchor="middle" fill="#000" >KPC</text>
<line x1="99.80" y1="319.30" x2="214.00" y2="319.30" stroke="#000" stroke-width="1.1" />
<text x="85.00" y="341.85" font-family="Liberation Sans" font-weight="bold" font-size="11" text-anchor="end" fill="#000" >PD-L1</text>
<text x="85.00" y="366.75" font-family="Liberation Sans" font-weight="bold" font-size="11" text-anchor="end" fill="#000" >Actin</text>
<svg x="96.10" y="325.90" width="119.60" height="20.80" overflow="hidden">
<defs><linearGradient id="gC1KPC" x1="0" y1="0" x2="0" y2="1"><stop offset="0" stop-color="#f4f4f4"/><stop offset="1" stop-color="#f8f8f8"/></linearGradient></defs>
<rect x="0.00" y="0.00" width="119.60" height="20.80" fill="url(#gC1KPC)" stroke="none" stroke-width="1" />
<ellipse cx="16.10" cy="8.80" rx="9.25" ry="3.24" fill="#000" fill-opacity="0.25" filter="url(#b2)"/>
<rect x="7.85" y="7.00" width="16.50" height="3.60" rx="1.80" fill="#000" filter="url(#b3)"/>
<ellipse cx="46.20" cy="9.00" rx="10.75" ry="3.96" fill="#000" fill-opacity="0.3" filter="url(#b2)"/>
<rect x="36.45" y="6.80" width="19.50" height="4.40" rx="2.20" fill="#000" filter="url(#b3)"/>
<ellipse cx="75.90" cy="9.10" rx="10.00" ry="2.34" fill="#9a9a9a" fill-opacity="0.25" filter="url(#b2)"/>
<rect x="66.90" y="7.80" width="18.00" height="2.60" rx="1.30" fill="#9a9a9a" filter="url(#b3)"/>
<ellipse cx="107.90" cy="8.70" rx="10.50" ry="2.70" fill="#111" fill-opacity="0.25" filter="url(#b2)" transform="rotate(-3 107.90 8.70)"/>
<rect x="98.40" y="7.20" width="19.00" height="3.00" rx="1.50" fill="#111" filter="url(#b3)" transform="rotate(-3 107.90 8.70)"/>
</svg>
<rect x="96.10" y="325.90" width="119.60" height="20.80" fill="none" stroke="#2a2a2a" stroke-width="1.7" />
<svg x="96.10" y="351.60" width="119.60" height="20.20" overflow="hidden">
<defs><linearGradient id="gC2KPC" x1="0" y1="0" x2="0" y2="1"><stop offset="0" stop-color="#dedede"/><stop offset="0.5" stop-color="#ececec"/><stop offset="1" stop-color="#f4f4f4"/></linearGradient></defs>
<rect x="0.00" y="0.00" width="119.60" height="20.20" fill="url(#gC2KPC)" stroke="none" stroke-width="1" />
<ellipse cx="16.80" cy="8.80" rx="12.00" ry="3.06" fill="#000" fill-opacity="0.3" filter="url(#b2)" transform="rotate(-3 16.80 8.80)"/>
<rect x="5.80" y="7.10" width="22.00" height="3.40" rx="1.70" fill="#000" filter="url(#b3)" transform="rotate(-3 16.80 8.80)"/>
<ellipse cx="45.90" cy="7.80" rx="12.25" ry="2.88" fill="#000" fill-opacity="0.3" filter="url(#b2)" transform="rotate(-1.5 45.90 7.80)"/>
<rect x="34.65" y="6.20" width="22.50" height="3.20" rx="1.60" fill="#000" filter="url(#b3)" transform="rotate(-1.5 45.90 7.80)"/>
<ellipse cx="75.40" cy="8.00" rx="12.00" ry="2.88" fill="#000" fill-opacity="0.3" filter="url(#b2)"/>
<rect x="64.40" y="6.40" width="22.00" height="3.20" rx="1.60" fill="#000" filter="url(#b3)"/>
<ellipse cx="105.90" cy="6.60" rx="12.50" ry="2.88" fill="#111" fill-opacity="0.3" filter="url(#b2)" transform="rotate(-3 105.90 6.60)"/>
<rect x="94.40" y="5.00" width="23.00" height="3.20" rx="1.60" fill="#111" filter="url(#b3)" transform="rotate(-3 105.90 6.60)"/>
</svg>
<rect x="96.10" y="351.60" width="119.60" height="20.20" fill="none" stroke="#2a2a2a" stroke-width="1.7" />
<line x1="216.50" y1="340.10" x2="221.80" y2="340.10" stroke="#000" stroke-width="2" />
<text x="225.80" y="342.60" font-family="Liberation Sans" font-size="7.2" text-anchor="start" fill="#000" >45</text>
<line x1="216.50" y1="353.40" x2="221.80" y2="353.40" stroke="#000" stroke-width="2" />
<text x="225.80" y="355.90" font-family="Liberation Sans" font-size="7.2" text-anchor="start" fill="#000" >45</text>
<line x1="93.60" y1="399.20" x2="93.60" y2="520.40" stroke="#000" stroke-width="1.9" />
<line x1="92.70" y1="519.50" x2="213.60" y2="519.50" stroke="#000" stroke-width="1.9" />
<line x1="84.90" y1="519.50" x2="94.50" y2="519.50" stroke="#000" stroke-width="1.6" />
<text x="82.60" y="522.51" font-family="Liberation Sans" font-size="8.6" text-anchor="end" fill="#000" >0</text>
<line x1="84.90" y1="495.60" x2="94.50" y2="495.60" stroke="#000" stroke-width="1.6" />
<text x="82.60" y="498.61" font-family="Liberation Sans" font-size="8.6" text-anchor="end" fill="#000" >1</text>
<line x1="84.90" y1="471.70" x2="94.50" y2="471.70" stroke="#000" stroke-width="1.6" />
<text x="82.60" y="474.71" font-family="Liberation Sans" font-size="8.6" text-anchor="end" fill="#000" >2</text>
<line x1="84.90" y1="447.80" x2="94.50" y2="447.80" stroke="#000" stroke-width="1.6" />
<text x="82.60" y="450.81" font-family="Liberation Sans" font-size="8.6" text-anchor="end" fill="#000" >3</text>
<line x1="84.90" y1="423.90" x2="94.50" y2="423.90" stroke="#000" stroke-width="1.6" />
<text x="82.60" y="426.91" font-family="Liberation Sans" font-size="8.6" text-anchor="end" fill="#000" >4</text>
<line x1="84.90" y1="400.00" x2="94.50" y2="400.00" stroke="#000" stroke-width="1.6" />
<text x="82.60" y="403.01" font-family="Liberation Sans" font-size="8.6" text-anchor="end" fill="#000" >5</text>
<line x1="111.80" y1="519.50" x2="111.80" y2="527.90" stroke="#000" stroke-width="1.9" />
<line x1="139.10" y1="519.50" x2="139.10" y2="527.90" stroke="#000" stroke-width="1.9" />
<line x1="166.50" y1="519.50" x2="166.50" y2="527.90" stroke="#000" stroke-width="1.9" />
<line x1="193.90" y1="519.50" x2="193.90" y2="527.90" stroke="#000" stroke-width="1.9" />
<text transform="translate(50.00,462.40) rotate(-90)" x="0" y="3.96" font-family="Liberation Sans" font-weight="bold" font-size="11.3" text-anchor="middle" fill="#000">Relative PD-L1 Expression</text>
<text transform="translate(63.80,462.40) rotate(-90)" x="0" y="3.96" font-family="Liberation Sans" font-weight="bold" font-size="11.3" text-anchor="middle" fill="#000">(Normalized by ACTB)</text>
<text x="93.30" y="548.50" font-family="Liberation Sans" font-weight="bold" font-size="11" text-anchor="end" fill="#000" >iMQT_020</text>
<text x="93.30" y="565.90" font-family="Liberation Sans" font-weight="bold" font-size="11" text-anchor="end" fill="#000" >DM-<tspan font-family="Liberation Serif" font-weight="normal" font-size="1.12em">&#945;</tspan>KG</text>
<text x="111.80" y="548.72" font-family="Liberation Sans" font-weight="bold" font-size="12" text-anchor="middle" fill="#000" >-</text>
<text x="138.70" y="548.06" font-family="Liberation Sans" font-weight="bold" font-size="12" text-anchor="middle" fill="#000" >+</text>
<text x="165.90" y="548.06" font-family="Liberation Sans" font-weight="bold" font-size="12" text-anchor="middle" fill="#000" >+</text>
<text x="193.60" y="548.06" font-family="Liberation Sans" font-weight="bold" font-size="12" text-anchor="middle" fill="#000" >+</text>
<text x="111.80" y="565.72" font-family="Liberation Sans" font-weight="bold" font-size="12" text-anchor="middle" fill="#000" >-</text>
<text x="138.70" y="565.72" font-family="Liberation Sans" font-weight="bold" font-size="12" text-anchor="middle" fill="#000" >-</text>
<text x="165.90" y="565.06" font-family="Liberation Sans" font-weight="bold" font-size="12" text-anchor="middle" fill="#000" >+</text>
<text x="193.60" y="565.06" font-family="Liberation Sans" font-weight="bold" font-size="12" text-anchor="middle" fill="#000" >+</text>
<text x="111.80" y="581.32" font-family="Liberation Sans" font-weight="bold" font-size="12" text-anchor="middle" fill="#000" >-</text>
<text x="138.70" y="581.32" font-family="Liberation Sans" font-weight="bold" font-size="12" text-anchor="middle" fill="#000" >-</text>
<text x="165.90" y="581.32" font-family="Liberation Sans" font-weight="bold" font-size="12" text-anchor="middle" fill="#000" >-</text>
<text transform="translate(193.60,574.50) rotate(-90)" x="0" y="3.85" font-family="Liberation Sans" font-weight="bold" font-size="11" text-anchor="end" fill="#000">CPI-455</text>
<text x="381.00" y="312.85" font-family="Liberation Sans" font-weight="bold" font-size="11" text-anchor="middle" fill="#000" >LLC</text>
<line x1="324.30" y1="319.30" x2="438.50" y2="319.30" stroke="#000" stroke-width="1.1" />
<text x="309.50" y="341.85" font-family="Liberation Sans" font-weight="bold" font-size="11" text-anchor="end" fill="#000" >PD-L1</text>
<text x="309.50" y="366.75" font-family="Liberation Sans" font-weight="bold" font-size="11" text-anchor="end" fill="#000" >Actin</text>
<svg x="320.60" y="325.90" width="119.60" height="20.80" overflow="hidden">
<defs><linearGradient id="gC1LLC" x1="0" y1="0" x2="0" y2="1"><stop offset="0" stop-color="#dadada"/><stop offset="0.7" stop-color="#e2e2e2"/><stop offset="1" stop-color="#eaeaea"/></linearGradient></defs>
<rect x="0.00" y="0.00" width="119.60" height="20.80" fill="url(#gC1LLC)" stroke="none" stroke-width="1" />
<ellipse cx="17.40" cy="11.10" rx="12.00" ry="12.00" fill="#cdcdcd" filter="url(#b2)"/>
<ellipse cx="48.40" cy="11.10" rx="13.50" ry="12.00" fill="#c4c4c4" filter="url(#b2)"/>
<ellipse cx="77.90" cy="11.10" rx="12.00" ry="12.00" fill="#cbcbcb" filter="url(#b2)"/>
<ellipse cx="108.40" cy="11.10" rx="12.00" ry="12.00" fill="#c6c6c6" filter="url(#b2)"/>
<ellipse cx="17.40" cy="12.60" rx="9.00" ry="2.25" fill="#8e8e8e" filter="url(#b2)"/>
<ellipse cx="48.40" cy="10.70" rx="12.00" ry="7.20" fill="#000" fill-opacity="0.4" filter="url(#b2)" transform="rotate(-6 48.40 10.70)"/>
<rect x="37.40" y="6.70" width="22.00" height="8.00" rx="4.00" fill="#000" filter="url(#b3)" transform="rotate(-6 48.40 10.70)"/>
<ellipse cx="77.90" cy="12.10" rx="10.00" ry="3.24" fill="#5a5a5a" fill-opacity="0.25" filter="url(#b2)"/>
<rect x="68.90" y="10.30" width="18.00" height="3.60" rx="1.80" fill="#5a5a5a" filter="url(#b3)"/>
<ellipse cx="108.30" cy="12.10" rx="10.50" ry="4.32" fill="#111" fill-opacity="0.3" filter="url(#b2)"/>
<rect x="98.80" y="9.70" width="19.00" height="4.80" rx="2.40" fill="#111" filter="url(#b3)"/>
</svg>
<rect x="320.60" y="325.90" width="119.60" height="20.80" fill="none" stroke="#2a2a2a" stroke-width="1.7" />
<svg x="320.60" y="351.60" width="119.60" height="20.20" overflow="hidden">
<defs><linearGradient id="gC2LLC" x1="0" y1="0" x2="0" y2="1"><stop offset="0" stop-color="#d6d6d6"/><stop offset="1" stop-color="#e6e6e6"/></linearGradient></defs>
<rect x="0.00" y="0.00" width="119.60" height="20.20" fill="url(#gC2LLC)" stroke="none" stroke-width="1" />
<ellipse cx="15.40" cy="11.00" rx="13.50" ry="3.78" fill="#000" fill-opacity="0.3" filter="url(#b2)"/>
<rect x="2.90" y="8.90" width="25.00" height="4.20" rx="2.10" fill="#000" filter="url(#b3)"/>
<ellipse cx="47.00" cy="11.00" rx="13.00" ry="3.78" fill="#000" fill-opacity="0.3" filter="url(#b2)"/>
<rect x="35.00" y="8.90" width="24.00" height="4.20" rx="2.10" fill="#000" filter="url(#b3)"/>
<ellipse cx="77.40" cy="11.20" rx="12.00" ry="3.60" fill="#000" fill-opacity="0.3" filter="url(#b2)"/>
<rect x="66.40" y="9.20" width="22.00" height="4.00" rx="2.00" fill="#000" filter="url(#b3)"/>
<ellipse cx="106.80" cy="11.60" rx="11.50" ry="3.60" fill="#000" fill-opacity="0.3" filter="url(#b2)"/>
<rect x="96.30" y="9.60" width="21.00" height="4.00" rx="2.00" fill="#000" filter="url(#b3)"/>
</svg>
<rect x="320.60" y="351.60" width="119.60" height="20.20" fill="none" stroke="#2a2a2a" stroke-width="1.7" />
<line x1="441.00" y1="340.10" x2="446.30" y2="340.10" stroke="#000" stroke-width="2" />
<text x="450.30" y="342.60" font-family="Liberation Sans" font-size="7.2" text-anchor="start" fill="#000" >45</text>
<line x1="441.00" y1="353.40" x2="446.30" y2="353.40" stroke="#000" stroke-width="2" />
<text x="450.30" y="355.90" font-family="Liberation Sans" font-size="7.2" text-anchor="start" fill="#000" >45</text>
<line x1="317.60" y1="399.10" x2="317.60" y2="520.50" stroke="#000" stroke-width="1.9" />
<line x1="316.70" y1="519.60" x2="437.60" y2="519.60" stroke="#000" stroke-width="1.9" />
<line x1="308.90" y1="519.60" x2="318.50" y2="519.60" stroke="#000" stroke-width="1.6" />
<text x="306.60" y="522.61" font-family="Liberation Sans" font-size="8.6" text-anchor="end" fill="#000" >0</text>
<line x1="308.90" y1="479.70" x2="318.50" y2="479.70" stroke="#000" stroke-width="1.6" />
<text x="306.60" y="482.71" font-family="Liberation Sans" font-size="8.6" text-anchor="end" fill="#000" >1</text>
<line x1="308.90" y1="439.80" x2="318.50" y2="439.80" stroke="#000" stroke-width="1.6" />
<text x="306.60" y="442.81" font-family="Liberation Sans" font-size="8.6" text-anchor="end" fill="#000" >2</text>
<line x1="308.90" y1="399.90" x2="318.50" y2="399.90" stroke="#000" stroke-width="1.6" />
<text x="306.60" y="402.91" font-family="Liberation Sans" font-size="8.6" text-anchor="end" fill="#000" >3</text>
<line x1="335.80" y1="519.60" x2="335.80" y2="528.00" stroke="#000" stroke-width="1.9" />
<line x1="363.10" y1="519.60" x2="363.10" y2="528.00" stroke="#000" stroke-width="1.9" />
<line x1="390.50" y1="519.60" x2="390.50" y2="528.00" stroke="#000" stroke-width="1.9" />
<line x1="417.90" y1="519.60" x2="417.90" y2="528.00" stroke="#000" stroke-width="1.9" />
<text transform="translate(274.00,462.40) rotate(-90)" x="0" y="3.96" font-family="Liberation Sans" font-weight="bold" font-size="11.3" text-anchor="middle" fill="#000">Relative PD-L1 Expression</text>
<text transform="translate(287.80,462.40) rotate(-90)" x="0" y="3.96" font-family="Liberation Sans" font-weight="bold" font-size="11.3" text-anchor="middle" fill="#000">(Normalized by ACTB)</text>
<text x="317.70" y="548.50" font-family="Liberation Sans" font-weight="bold" font-size="11" text-anchor="end" fill="#000" >iMQT_020</text>
<text x="317.70" y="565.90" font-family="Liberation Sans" font-weight="bold" font-size="11" text-anchor="end" fill="#000" >DM-<tspan font-family="Liberation Serif" font-weight="normal" font-size="1.12em">&#945;</tspan>KG</text>
<text x="336.20" y="548.72" font-family="Liberation Sans" font-weight="bold" font-size="12" text-anchor="middle" fill="#000" >-</text>
<text x="363.10" y="548.06" font-family="Liberation Sans" font-weight="bold" font-size="12" text-anchor="middle" fill="#000" >+</text>
<text x="390.30" y="548.06" font-family="Liberation Sans" font-weight="bold" font-size="12" text-anchor="middle" fill="#000" >+</text>
<text x="418.00" y="548.06" font-family="Liberation Sans" font-weight="bold" font-size="12" text-anchor="middle" fill="#000" >+</text>
<text x="336.20" y="565.72" font-family="Liberation Sans" font-weight="bold" font-size="12" text-anchor="middle" fill="#000" >-</text>
<text x="363.10" y="565.72" font-family="Liberation Sans" font-weight="bold" font-size="12" text-anchor="middle" fill="#000" >-</text>
<text x="390.30" y="565.06" font-family="Liberation Sans" font-weight="bold" font-size="12" text-anchor="middle" fill="#000" >+</text>
<text x="418.00" y="565.06" font-family="Liberation Sans" font-weight="bold" font-size="12" text-anchor="middle" fill="#000" >+</text>
<text x="336.20" y="581.32" font-family="Liberation Sans" font-weight="bold" font-size="12" text-anchor="middle" fill="#000" >-</text>
<text x="363.10" y="581.32" font-family="Liberation Sans" font-weight="bold" font-size="12" text-anchor="middle" fill="#000" >-</text>
<text x="390.30" y="581.32" font-family="Liberation Sans" font-weight="bold" font-size="12" text-anchor="middle" fill="#000" >-</text>
<text transform="translate(418.00,574.50) rotate(-90)" x="0" y="3.85" font-family="Liberation Sans" font-weight="bold" font-size="11" text-anchor="end" fill="#000">CPI-455</text>
<text x="605.30" y="312.85" font-family="Liberation Sans" font-weight="bold" font-size="11" text-anchor="middle" fill="#000" >MC-38</text>
<line x1="548.60" y1="319.30" x2="662.80" y2="319.30" stroke="#000" stroke-width="1.1" />
<text x="533.80" y="341.85" font-family="Liberation Sans" font-weight="bold" font-size="11" text-anchor="end" fill="#000" >PD-L1</text>
<text x="533.80" y="366.75" font-family="Liberation Sans" font-weight="bold" font-size="11" text-anchor="end" fill="#000" >Actin</text>
<svg x="544.90" y="325.90" width="119.60" height="20.80" overflow="hidden">
<defs><linearGradient id="gC1MC-38" x1="0" y1="0" x2="0" y2="1"><stop offset="0" stop-color="#e2e2e2"/><stop offset="1" stop-color="#eeeeee"/></linearGradient></defs>
<rect x="0.00" y="0.00" width="119.60" height="20.80" fill="url(#gC1MC-38)" stroke="none" stroke-width="1" />
<ellipse cx="15.70" cy="10.10" rx="12.00" ry="12.00" fill="#bdbdbd" filter="url(#b2)"/>
<ellipse cx="46.10" cy="10.10" rx="12.00" ry="12.00" fill="#b8b8b8" filter="url(#b2)"/>
<ellipse cx="76.60" cy="11.10" rx="11.00" ry="11.00" fill="#d0d0d0" filter="url(#b2)"/>
<ellipse cx="108.10" cy="10.60" rx="13.00" ry="12.00" fill="#a8a8a8" filter="url(#b2)"/>
<ellipse cx="15.70" cy="10.50" rx="9.00" ry="2.25" fill="#8a8a8a" filter="url(#b2)"/>
<ellipse cx="45.90" cy="11.10" rx="9.50" ry="2.50" fill="#111" filter="url(#b1)"/>
<ellipse cx="76.60" cy="12.10" rx="8.00" ry="2.00" fill="#b8b8b8" filter="url(#b2)"/>
<ellipse cx="108.30" cy="10.90" rx="10.00" ry="5.50" fill="#000" filter="url(#b1)"/>
</svg>
<rect x="544.90" y="325.90" width="119.60" height="20.80" fill="none" stroke="#2a2a2a" stroke-width="1.7" />
<svg x="544.90" y="351.60" width="119.60" height="20.20" overflow="hidden">
<defs><linearGradient id="gC2MC-38" x1="0" y1="0" x2="0" y2="1"><stop offset="0" stop-color="#dadada"/><stop offset="1" stop-color="#e8e8e8"/></linearGradient></defs>
<rect x="0.00" y="0.00" width="119.60" height="20.20" fill="url(#gC2MC-38)" stroke="none" stroke-width="1" />
<ellipse cx="19.90" cy="10.00" rx="13.00" ry="3.24" fill="#000" fill-opacity="0.3" filter="url(#b2)"/>
<rect x="7.90" y="8.20" width="24.00" height="3.60" rx="1.80" fill="#000" filter="url(#b3)"/>
<ellipse cx="48.80" cy="9.60" rx="12.00" ry="3.24" fill="#000" fill-opacity="0.3" filter="url(#b2)"/>
<rect x="37.80" y="7.80" width="22.00" height="3.60" rx="1.80" fill="#000" filter="url(#b3)"/>
<ellipse cx="77.60" cy="9.60" rx="11.00" ry="3.24" fill="#000" fill-opacity="0.3" filter="url(#b2)"/>
<rect x="67.60" y="7.80" width="20.00" height="3.60" rx="1.80" fill="#000" filter="url(#b3)"/>
<ellipse cx="106.30" cy="10.20" rx="12.00" ry="3.24" fill="#000" fill-opacity="0.3" filter="url(#b2)"/>
<rect x="95.30" y="8.40" width="22.00" height="3.60" rx="1.80" fill="#000" filter="url(#b3)"/>
</svg>
<rect x="544.90" y="351.60" width="119.60" height="20.20" fill="none" stroke="#2a2a2a" stroke-width="1.7" />
<line x1="665.30" y1="340.10" x2="670.60" y2="340.10" stroke="#000" stroke-width="2" />
<text x="674.60" y="342.60" font-family="Liberation Sans" font-size="7.2" text-anchor="start" fill="#000" >45</text>
<line x1="665.30" y1="353.40" x2="670.60" y2="353.40" stroke="#000" stroke-width="2" />
<text x="674.60" y="355.90" font-family="Liberation Sans" font-size="7.2" text-anchor="start" fill="#000" >45</text>
<line x1="541.80" y1="399.10" x2="541.80" y2="519.90" stroke="#000" stroke-width="1.9" />
<line x1="540.90" y1="519.00" x2="661.70" y2="519.00" stroke="#000" stroke-width="1.9" />
<line x1="533.10" y1="519.00" x2="542.70" y2="519.00" stroke="#000" stroke-width="1.6" />
<text x="530.80" y="522.01" font-family="Liberation Sans" font-size="8.6" text-anchor="end" fill="#000" >0</text>
<line x1="533.10" y1="479.30" x2="542.70" y2="479.30" stroke="#000" stroke-width="1.6" />
<text x="530.80" y="482.31" font-family="Liberation Sans" font-size="8.6" text-anchor="end" fill="#000" >1</text>
<line x1="533.10" y1="439.60" x2="542.70" y2="439.60" stroke="#000" stroke-width="1.6" />
<text x="530.80" y="442.61" font-family="Liberation Sans" font-size="8.6" text-anchor="end" fill="#000" >2</text>
<line x1="533.10" y1="399.90" x2="542.70" y2="399.90" stroke="#000" stroke-width="1.6" />
<text x="530.80" y="402.91" font-family="Liberation Sans" font-size="8.6" text-anchor="end" fill="#000" >3</text>
<line x1="560.00" y1="519.00" x2="560.00" y2="527.40" stroke="#000" stroke-width="1.9" />
<line x1="587.30" y1="519.00" x2="587.30" y2="527.40" stroke="#000" stroke-width="1.9" />
<line x1="614.70" y1="519.00" x2="614.70" y2="527.40" stroke="#000" stroke-width="1.9" />
<line x1="642.10" y1="519.00" x2="642.10" y2="527.40" stroke="#000" stroke-width="1.9" />
<text transform="translate(498.20,462.40) rotate(-90)" x="0" y="3.96" font-family="Liberation Sans" font-weight="bold" font-size="11.3" text-anchor="middle" fill="#000">Relative PD-L1 Expression</text>
<text transform="translate(512.00,462.40) rotate(-90)" x="0" y="3.96" font-family="Liberation Sans" font-weight="bold" font-size="11.3" text-anchor="middle" fill="#000">(Normalized by ACTB)</text>
<text x="542.70" y="548.50" font-family="Liberation Sans" font-weight="bold" font-size="11" text-anchor="end" fill="#000" >iMQT_020</text>
<text x="542.70" y="565.90" font-family="Liberation Sans" font-weight="bold" font-size="11" text-anchor="end" fill="#000" >DM-<tspan font-family="Liberation Serif" font-weight="normal" font-size="1.12em">&#945;</tspan>KG</text>
<text x="561.20" y="548.72" font-family="Liberation Sans" font-weight="bold" font-size="12" text-anchor="middle" fill="#000" >-</text>
<text x="588.10" y="548.06" font-family="Liberation Sans" font-weight="bold" font-size="12" text-anchor="middle" fill="#000" >+</text>
<text x="615.30" y="548.06" font-family="Liberation Sans" font-weight="bold" font-size="12" text-anchor="middle" fill="#000" >+</text>
<text x="643.00" y="548.06" font-family="Liberation Sans" font-weight="bold" font-size="12" text-anchor="middle" fill="#000" >+</text>
<text x="561.20" y="565.72" font-family="Liberation Sans" font-weight="bold" font-size="12" text-anchor="middle" fill="#000" >-</text>
<text x="588.10" y="565.72" font-family="Liberation Sans" font-weight="bold" font-size="12" text-anchor="middle" fill="#000" >-</text>
<text x="615.30" y="565.06" font-family="Liberation Sans" font-weight="bold" font-size="12" text-anchor="middle" fill="#000" >+</text>
<text x="643.00" y="565.06" font-family="Liberation Sans" font-weight="bold" font-size="12" text-anchor="middle" fill="#000" >+</text>
<text x="561.20" y="581.32" font-family="Liberation Sans" font-weight="bold" font-size="12" text-anchor="middle" fill="#000" >-</text>
<text x="588.10" y="581.32" font-family="Liberation Sans" font-weight="bold" font-size="12" text-anchor="middle" fill="#000" >-</text>
<text x="615.30" y="581.32" font-family="Liberation Sans" font-weight="bold" font-size="12" text-anchor="middle" fill="#000" >-</text>
<text transform="translate(643.00,574.50) rotate(-90)" x="0" y="3.85" font-family="Liberation Sans" font-weight="bold" font-size="11" text-anchor="end" fill="#000">CPI-455</text>
<line x1="111.80" y1="494.00" x2="111.80" y2="495.20" stroke="#a3a3a3" stroke-width="1.5" />
<line x1="108.60" y1="494.00" x2="115.00" y2="494.00" stroke="#a3a3a3" stroke-width="1.5" />
<line x1="108.60" y1="495.20" x2="115.00" y2="495.20" stroke="#a3a3a3" stroke-width="1.5" />
<circle cx="104.00" cy="496.10" r="2.70" fill="#a3a3a3"/>
<circle cx="108.00" cy="495.20" r="2.70" fill="#a3a3a3"/>
<circle cx="111.80" cy="494.60" r="2.70" fill="#a3a3a3"/>
<circle cx="115.50" cy="494.60" r="2.70" fill="#a3a3a3"/>
<circle cx="119.20" cy="494.00" r="2.70" fill="#a3a3a3"/>
<line x1="104.30" y1="494.60" x2="119.30" y2="494.60" stroke="#a3a3a3" stroke-width="1.9500000000000002" />
<line x1="139.00" y1="420.00" x2="139.00" y2="460.60" stroke="#f7434a" stroke-width="1.5" />
<line x1="134.80" y1="420.00" x2="143.20" y2="420.00" stroke="#f7434a" stroke-width="1.5" />
<line x1="134.80" y1="460.60" x2="143.20" y2="460.60" stroke="#f7434a" stroke-width="1.5" />
<circle cx="135.20" cy="428.20" r="2.70" fill="#f7434a"/>
<circle cx="143.30" cy="429.30" r="2.70" fill="#f7434a"/>
<circle cx="139.00" cy="463.60" r="2.70" fill="#f7434a"/>
<line x1="130.20" y1="440.20" x2="147.80" y2="440.20" stroke="#f7434a" stroke-width="1.9500000000000002" />
<line x1="166.50" y1="491.50" x2="166.50" y2="496.00" stroke="#1fb976" stroke-width="1.5" />
<line x1="162.50" y1="491.50" x2="170.50" y2="491.50" stroke="#1fb976" stroke-width="1.5" />
<line x1="162.50" y1="496.00" x2="170.50" y2="496.00" stroke="#1fb976" stroke-width="1.5" />
<circle cx="161.80" cy="497.00" r="2.70" fill="#1fb976"/>
<circle cx="162.60" cy="491.30" r="2.70" fill="#1fb976"/>
<circle cx="167.40" cy="493.00" r="2.70" fill="#1fb976"/>
<circle cx="170.70" cy="492.50" r="2.70" fill="#1fb976"/>
<line x1="157.70" y1="493.70" x2="175.30" y2="493.70" stroke="#1fb976" stroke-width="1.9500000000000002" />
<line x1="194.00" y1="471.00" x2="194.00" y2="473.80" stroke="#a112e6" stroke-width="1.5" />
<line x1="190.80" y1="471.00" x2="197.20" y2="471.00" stroke="#a112e6" stroke-width="1.5" />
<line x1="190.80" y1="473.80" x2="197.20" y2="473.80" stroke="#a112e6" stroke-width="1.5" />
<circle cx="186.70" cy="474.10" r="2.70" fill="#a112e6"/>
<circle cx="190.50" cy="472.50" r="2.70" fill="#a112e6"/>
<circle cx="194.00" cy="470.20" r="2.70" fill="#a112e6"/>
<circle cx="197.50" cy="472.00" r="2.70" fill="#a112e6"/>
<circle cx="201.50" cy="472.40" r="2.70" fill="#a112e6"/>
<line x1="186.50" y1="472.40" x2="201.50" y2="472.40" stroke="#a112e6" stroke-width="1.9500000000000002" />
<line x1="336.20" y1="472.00" x2="336.20" y2="480.00" stroke="#a3a3a3" stroke-width="1.5" />
<line x1="332.20" y1="472.00" x2="340.20" y2="472.00" stroke="#a3a3a3" stroke-width="1.5" />
<line x1="332.20" y1="480.00" x2="340.20" y2="480.00" stroke="#a3a3a3" stroke-width="1.5" />
<circle cx="332.20" cy="471.70" r="2.70" fill="#a3a3a3"/>
<circle cx="335.70" cy="481.30" r="2.70" fill="#a3a3a3"/>
<circle cx="340.20" cy="475.00" r="2.70" fill="#a3a3a3"/>
<line x1="327.70" y1="476.40" x2="344.70" y2="476.40" stroke="#a3a3a3" stroke-width="1.9500000000000002" />
<line x1="363.30" y1="449.50" x2="363.30" y2="456.30" stroke="#f7434a" stroke-width="1.5" />
<line x1="359.30" y1="449.50" x2="367.30" y2="449.50" stroke="#f7434a" stroke-width="1.5" />
<line x1="359.30" y1="456.30" x2="367.30" y2="456.30" stroke="#f7434a" stroke-width="1.5" />
<circle cx="363.30" cy="449.00" r="2.70" fill="#f7434a"/>
<circle cx="359.30" cy="456.50" r="2.70" fill="#f7434a"/>
<circle cx="366.80" cy="454.50" r="2.70" fill="#f7434a"/>
<line x1="354.80" y1="453.00" x2="371.80" y2="453.00" stroke="#f7434a" stroke-width="1.9500000000000002" />
<line x1="390.90" y1="476.80" x2="390.90" y2="485.20" stroke="#1fb976" stroke-width="1.5" />
<line x1="386.90" y1="476.80" x2="394.90" y2="476.80" stroke="#1fb976" stroke-width="1.5" />
<line x1="386.90" y1="485.20" x2="394.90" y2="485.20" stroke="#1fb976" stroke-width="1.5" />
<circle cx="387.40" cy="477.00" r="2.70" fill="#1fb976"/>
<circle cx="390.90" cy="484.80" r="2.70" fill="#1fb976"/>
<circle cx="394.40" cy="477.50" r="2.70" fill="#1fb976"/>
<line x1="382.40" y1="480.90" x2="399.40" y2="480.90" stroke="#1fb976" stroke-width="1.9500000000000002" />
<line x1="418.30" y1="463.30" x2="418.30" y2="470.30" stroke="#a112e6" stroke-width="1.5" />
<line x1="414.30" y1="463.30" x2="422.30" y2="463.30" stroke="#a112e6" stroke-width="1.5" />
<line x1="414.30" y1="470.30" x2="422.30" y2="470.30" stroke="#a112e6" stroke-width="1.5" />
<circle cx="414.80" cy="463.50" r="2.70" fill="#a112e6"/>
<circle cx="418.30" cy="470.30" r="2.70" fill="#a112e6"/>
<circle cx="421.80" cy="464.50" r="2.70" fill="#a112e6"/>
<line x1="409.80" y1="466.90" x2="426.80" y2="466.90" stroke="#a112e6" stroke-width="1.9500000000000002" />
<line x1="560.00" y1="475.50" x2="560.00" y2="480.50" stroke="#a3a3a3" stroke-width="1.5" />
<line x1="556.00" y1="475.50" x2="564.00" y2="475.50" stroke="#a3a3a3" stroke-width="1.5" />
<line x1="556.00" y1="480.50" x2="564.00" y2="480.50" stroke="#a3a3a3" stroke-width="1.5" />
<circle cx="556.50" cy="475.50" r="2.70" fill="#a3a3a3"/>
<circle cx="560.00" cy="480.80" r="2.70" fill="#a3a3a3"/>
<circle cx="563.50" cy="476.50" r="2.70" fill="#a3a3a3"/>
<line x1="551.50" y1="478.20" x2="568.50" y2="478.20" stroke="#a3a3a3" stroke-width="1.9500000000000002" />
<line x1="587.40" y1="448.00" x2="587.40" y2="455.50" stroke="#f7434a" stroke-width="1.5" />
<line x1="583.40" y1="448.00" x2="591.40" y2="448.00" stroke="#f7434a" stroke-width="1.5" />
<line x1="583.40" y1="455.50" x2="591.40" y2="455.50" stroke="#f7434a" stroke-width="1.5" />
<circle cx="583.50" cy="447.60" r="2.70" fill="#f7434a"/>
<circle cx="583.50" cy="456.70" r="2.70" fill="#f7434a"/>
<circle cx="593.00" cy="451.80" r="2.70" fill="#f7434a"/>
<line x1="578.90" y1="451.80" x2="595.90" y2="451.80" stroke="#f7434a" stroke-width="1.9500000000000002" />
<line x1="614.60" y1="481.80" x2="614.60" y2="483.40" stroke="#1fb976" stroke-width="1.5" />
<line x1="610.60" y1="481.80" x2="618.60" y2="481.80" stroke="#1fb976" stroke-width="1.5" />
<line x1="610.60" y1="483.40" x2="618.60" y2="483.40" stroke="#1fb976" stroke-width="1.5" />
<circle cx="608.10" cy="483.00" r="2.70" fill="#1fb976"/>
<circle cx="612.10" cy="482.20" r="2.70" fill="#1fb976"/>
<circle cx="615.60" cy="481.00" r="2.70" fill="#1fb976"/>
<circle cx="619.10" cy="482.00" r="2.70" fill="#1fb976"/>
<circle cx="622.10" cy="483.20" r="2.70" fill="#1fb976"/>
<line x1="606.10" y1="482.60" x2="623.10" y2="482.60" stroke="#1fb976" stroke-width="1.9500000000000002" />
<line x1="642.00" y1="464.50" x2="642.00" y2="467.00" stroke="#a112e6" stroke-width="1.5" />
<line x1="638.00" y1="464.50" x2="646.00" y2="464.50" stroke="#a112e6" stroke-width="1.5" />
<line x1="638.00" y1="467.00" x2="646.00" y2="467.00" stroke="#a112e6" stroke-width="1.5" />
<circle cx="635.50" cy="467.40" r="2.70" fill="#a112e6"/>
<circle cx="638.50" cy="466.00" r="2.70" fill="#a112e6"/>
<circle cx="642.00" cy="464.20" r="2.70" fill="#a112e6"/>
<circle cx="645.50" cy="465.50" r="2.70" fill="#a112e6"/>
<circle cx="649.00" cy="466.00" r="2.70" fill="#a112e6"/>
<line x1="633.50" y1="465.80" x2="650.50" y2="465.80" stroke="#a112e6" stroke-width="1.9500000000000002" />
<line x1="111.80" y1="414.40" x2="138.90" y2="414.40" stroke="#111" stroke-width="1.3" />
<path d="M123.20,404.41 L123.20,407.38 M121.92,405.16 L124.49,406.64 M124.49,405.16 L121.92,406.64 " stroke="#111" stroke-width="0.97" stroke-linecap="round"/>
<circle cx="123.20" cy="405.90" r="0.77" fill="#111"/>
<path d="M127.49,404.41 L127.49,407.38 M126.21,405.16 L128.78,406.64 M128.78,405.16 L126.21,406.64 " stroke="#111" stroke-width="0.97" stroke-linecap="round"/>
<circle cx="127.49" cy="405.90" r="0.77" fill="#111"/>
<line x1="139.20" y1="407.80" x2="170.70" y2="407.80" stroke="#555" stroke-width="1.8" />
<path d="M154.95,397.81 L154.95,400.79 M153.66,398.56 L156.24,400.04 M156.24,398.56 L153.66,400.04 " stroke="#111" stroke-width="0.97" stroke-linecap="round"/>
<circle cx="154.95" cy="399.30" r="0.77" fill="#111"/>
<line x1="167.00" y1="389.90" x2="195.00" y2="389.90" stroke="#444" stroke-width="1.5" />
<path d="M181.00,379.81 L181.00,382.79 M179.71,380.56 L182.29,382.04 M182.29,380.56 L179.71,382.04 " stroke="#111" stroke-width="0.97" stroke-linecap="round"/>
<circle cx="181.00" cy="381.30" r="0.77" fill="#111"/>
<line x1="336.20" y1="440.40" x2="363.30" y2="440.40" stroke="#111" stroke-width="1.3" />
<path d="M349.75,430.01 L349.75,432.99 M348.46,430.76 L351.04,432.24 M351.04,430.76 L348.46,432.24 " stroke="#111" stroke-width="0.97" stroke-linecap="round"/>
<circle cx="349.75" cy="431.50" r="0.77" fill="#111"/>
<line x1="363.60" y1="427.70" x2="391.20" y2="427.70" stroke="#222" stroke-width="1.4" />
<path d="M377.40,417.62 L377.40,420.59 M376.11,418.36 L378.69,419.84 M378.69,418.36 L376.11,419.84 " stroke="#111" stroke-width="0.97" stroke-linecap="round"/>
<circle cx="377.40" cy="419.10" r="0.77" fill="#111"/>
<line x1="391.20" y1="411.60" x2="418.30" y2="411.60" stroke="#222" stroke-width="1.4" />
<path d="M404.75,401.81 L404.75,404.79 M403.46,402.56 L406.04,404.04 M406.04,402.56 L403.46,404.04 " stroke="#111" stroke-width="0.97" stroke-linecap="round"/>
<circle cx="404.75" cy="403.30" r="0.77" fill="#111"/>
<line x1="560.00" y1="442.20" x2="587.40" y2="442.20" stroke="#111" stroke-width="1.3" />
<path d="M571.56,432.01 L571.56,434.99 M570.27,432.76 L572.84,434.24 M572.84,432.76 L570.27,434.24 " stroke="#111" stroke-width="0.97" stroke-linecap="round"/>
<circle cx="571.56" cy="433.50" r="0.77" fill="#111"/>
<path d="M575.85,432.01 L575.85,434.99 M574.56,432.76 L577.13,434.24 M577.13,432.76 L574.56,434.24 " stroke="#111" stroke-width="0.97" stroke-linecap="round"/>
<circle cx="575.85" cy="433.50" r="0.77" fill="#111"/>
<line x1="587.40" y1="429.60" x2="614.90" y2="429.60" stroke="#222" stroke-width="1.4" />
<path d="M599.00,419.41 L599.00,422.38 M597.72,420.16 L600.29,421.64 M600.29,420.16 L597.72,421.64 " stroke="#111" stroke-width="0.97" stroke-linecap="round"/>
<circle cx="599.00" cy="420.90" r="0.77" fill="#111"/>
<path d="M603.29,419.41 L603.29,422.38 M602.01,420.16 L604.58,421.64 M604.58,420.16 L602.01,421.64 " stroke="#111" stroke-width="0.97" stroke-linecap="round"/>
<circle cx="603.29" cy="420.90" r="0.77" fill="#111"/>
<line x1="614.90" y1="413.20" x2="641.80" y2="413.20" stroke="#222" stroke-width="1.4" />
<path d="M628.35,403.51 L628.35,406.49 M627.06,404.26 L629.64,405.74 M629.64,404.26 L627.06,405.74 " stroke="#111" stroke-width="0.97" stroke-linecap="round"/>
<circle cx="628.35" cy="405.00" r="0.77" fill="#111"/>
<text x="0.80" y="639.50" font-family="Liberation Sans" font-weight="bold" font-size="16" text-anchor="start" fill="#000" >D</text>
<path d="M131.50,693.80 C135.15,693.72 147.32,693.48 153.40,693.30 C159.48,693.12 164.12,693.05 168.00,692.70 C171.88,692.35 173.78,692.08 176.70,691.20 C179.62,690.32 182.82,689.00 185.50,687.40 C188.18,685.80 190.62,683.78 192.80,681.60 C194.98,679.42 196.65,676.98 198.60,674.30 C200.55,671.62 202.70,667.93 204.50,665.50 C206.30,663.07 207.95,661.18 209.40,659.70 C210.85,658.22 211.93,656.60 213.20,656.60 C214.47,656.60 215.53,657.97 217.00,659.70 C218.47,661.43 220.20,664.33 222.00,667.00 C223.80,669.67 225.87,673.12 227.80,675.70 C229.73,678.28 232.13,680.88 233.60,682.50 C235.07,684.12 235.13,684.33 236.60,685.40 C238.07,686.47 239.73,687.83 242.40,688.90 C245.07,689.97 248.95,691.07 252.60,691.80 C256.25,692.53 259.73,692.97 264.30,693.30 C268.87,693.63 269.97,693.72 280.00,693.80 C290.03,693.88 317.08,693.80 324.50,693.80 L324.50,694.40 L131.50,694.40 Z" fill="#ff8f8f" stroke="none"/>
<line x1="130.60" y1="693.80" x2="325.50" y2="693.80" stroke="#f8a0a0" stroke-width="1.4" />
<path d="M153.40,693.30 C155.83,693.20 164.12,693.05 168.00,692.70 C171.88,692.35 173.78,692.08 176.70,691.20 C179.62,690.32 182.82,689.00 185.50,687.40 C188.18,685.80 190.62,683.78 192.80,681.60 C194.98,679.42 196.65,676.98 198.60,674.30 C200.55,671.62 202.70,667.93 204.50,665.50 C206.30,663.07 207.95,661.18 209.40,659.70 C210.85,658.22 211.93,656.60 213.20,656.60 C214.47,656.60 215.53,657.97 217.00,659.70 C218.47,661.43 220.20,664.33 222.00,667.00 C223.80,669.67 225.87,673.12 227.80,675.70 C229.73,678.28 232.13,680.88 233.60,682.50 C235.07,684.12 235.13,684.33 236.60,685.40 C238.07,686.47 239.73,687.83 242.40,688.90 C245.07,689.97 248.95,691.07 252.60,691.80 C256.25,692.53 262.35,693.05 264.30,693.30" fill="none" stroke="#ee2a2a" stroke-width="1.3"/>
<path d="M131.50,732.10 C134.17,732.05 140.45,732.18 147.50,731.80 C154.55,731.42 166.98,730.87 173.80,729.80 C180.62,728.73 184.03,727.12 188.40,725.40 C192.77,723.68 196.83,721.70 200.00,719.50 C203.17,717.30 205.20,714.13 207.40,712.20 C209.60,710.27 211.65,708.87 213.20,707.90 C214.75,706.93 215.40,706.58 216.70,706.40 C218.00,706.22 219.98,706.55 221.00,706.80 C222.02,707.05 221.90,706.75 222.80,707.90 C223.70,709.05 224.35,711.90 226.40,713.70 C228.45,715.50 231.70,717.10 235.10,718.70 C238.50,720.30 242.90,721.95 246.80,723.30 C250.70,724.65 254.62,725.63 258.50,726.80 C262.38,727.97 266.70,729.43 270.10,730.30 C273.50,731.17 273.92,731.70 278.90,732.00 C283.88,732.30 292.40,732.08 300.00,732.10 C307.60,732.12 320.42,732.10 324.50,732.10 L324.50,732.70 L131.50,732.70 Z" fill="#ffc590" stroke="none"/>
<line x1="130.60" y1="732.10" x2="325.50" y2="732.10" stroke="#ffc8a0" stroke-width="1.4" />
<path d="M173.80,729.80 C176.23,729.07 184.03,727.12 188.40,725.40 C192.77,723.68 196.83,721.70 200.00,719.50 C203.17,717.30 205.20,714.13 207.40,712.20 C209.60,710.27 211.65,708.87 213.20,707.90 C214.75,706.93 215.40,706.58 216.70,706.40 C218.00,706.22 219.98,706.55 221.00,706.80 C222.02,707.05 221.90,706.75 222.80,707.90 C223.70,709.05 224.35,711.90 226.40,713.70 C228.45,715.50 231.70,717.10 235.10,718.70 C238.50,720.30 242.90,721.95 246.80,723.30 C250.70,724.65 254.62,725.63 258.50,726.80 C262.38,727.97 268.17,729.72 270.10,730.30" fill="none" stroke="#f49a3c" stroke-width="1.3"/>
<path d="M131.50,770.90 C134.17,770.80 141.92,770.88 147.50,770.30 C153.08,769.72 159.65,768.70 165.00,767.40 C170.35,766.10 175.22,764.30 179.60,762.50 C183.98,760.70 187.88,758.70 191.30,756.60 C194.72,754.50 197.18,751.75 200.10,749.90 C203.02,748.05 206.37,746.65 208.80,745.50 C211.23,744.35 213.00,742.90 214.70,743.00 C216.40,743.10 217.55,745.28 219.00,746.10 C220.45,746.92 221.45,746.05 223.40,747.90 C225.35,749.75 228.27,754.43 230.70,757.20 C233.13,759.97 235.32,762.70 238.00,764.50 C240.68,766.30 242.90,767.03 246.80,768.00 C250.70,768.97 256.70,769.82 261.40,770.30 C266.10,770.78 264.48,770.80 275.00,770.90 C285.52,771.00 316.25,770.90 324.50,770.90 L324.50,771.50 L131.50,771.50 Z" fill="#c6f48c" stroke="none"/>
<line x1="130.60" y1="770.90" x2="325.50" y2="770.90" stroke="#c8f0a0" stroke-width="1.4" />
<path d="M147.50,770.30 C150.42,769.82 159.65,768.70 165.00,767.40 C170.35,766.10 175.22,764.30 179.60,762.50 C183.98,760.70 187.88,758.70 191.30,756.60 C194.72,754.50 197.18,751.75 200.10,749.90 C203.02,748.05 206.37,746.65 208.80,745.50 C211.23,744.35 213.00,742.90 214.70,743.00 C216.40,743.10 217.55,745.28 219.00,746.10 C220.45,746.92 221.45,746.05 223.40,747.90 C225.35,749.75 228.27,754.43 230.70,757.20 C233.13,759.97 235.32,762.70 238.00,764.50 C240.68,766.30 242.90,767.03 246.80,768.00 C250.70,768.97 258.97,769.92 261.40,770.30" fill="none" stroke="#86d81c" stroke-width="1.3"/>
<path d="M181.10,807.60 C183.05,806.50 189.40,803.80 192.80,801.00 C196.20,798.20 199.07,793.97 201.50,790.80 C203.93,787.63 205.20,784.23 207.40,782.00 C209.60,779.77 212.52,777.40 214.70,777.40 C216.88,777.40 218.55,780.02 220.50,782.00 C222.45,783.98 223.97,786.87 226.40,789.30 C228.83,791.73 231.70,794.55 235.10,796.60 C238.50,798.65 243.40,800.28 246.80,801.60 C250.20,802.92 252.33,803.50 255.50,804.50 C258.67,805.50 264.08,807.08 265.80,807.60 L265.80,808.20 L181.10,808.20 Z" fill="#8cf0fc" stroke="none"/>
<line x1="130.60" y1="807.60" x2="325.50" y2="807.60" stroke="#a0f0f8" stroke-width="1.4" />
<path d="M192.80,801.00 C194.25,799.30 199.07,793.97 201.50,790.80 C203.93,787.63 205.20,784.23 207.40,782.00 C209.60,779.77 212.52,777.40 214.70,777.40 C216.88,777.40 218.55,780.02 220.50,782.00 C222.45,783.98 223.97,786.87 226.40,789.30 C228.83,791.73 231.70,794.55 235.10,796.60 C238.50,798.65 243.40,800.28 246.80,801.60 C250.20,802.92 254.05,804.02 255.50,804.50" fill="none" stroke="#20dcec" stroke-width="1.3"/>
<rect x="130.60" y="651.10" width="194.90" height="156.90" fill="none" stroke="#000" stroke-width="1.4" />
<text x="118.60" y="678.32" font-family="Liberation Sans" font-weight="bold" font-size="11.2" text-anchor="end" fill="#000" >Vehicle</text>
<text x="118.60" y="717.72" font-family="Liberation Sans" font-weight="bold" font-size="11.2" text-anchor="end" fill="#000" >iMQT_020</text>
<text x="118.60" y="757.16" font-family="Liberation Sans" font-weight="bold" font-size="11.3" text-anchor="end" fill="#000" >iMQT_020 + DM-<tspan font-family="Liberation Serif" font-weight="normal" font-size="1.12em">&#945;</tspan>KG</text>
<text x="118.60" y="788.96" font-family="Liberation Sans" font-weight="bold" font-size="11.3" text-anchor="end" fill="#000" >iMQT_020 + DM-<tspan font-family="Liberation Serif" font-weight="normal" font-size="1.12em">&#945;</tspan>KG</text>
<text x="118.60" y="802.56" font-family="Liberation Sans" font-weight="bold" font-size="11.3" text-anchor="end" fill="#000" >+ CPI-455</text>
<line x1="131.20" y1="821.80" x2="185.80" y2="821.80" stroke="#000" stroke-width="1.3" />
<line x1="255.50" y1="821.80" x2="319.00" y2="821.80" stroke="#000" stroke-width="1.3" />
<path d="M325.8,821.8 L317.8,818.2 L317.8,825.4 Z" fill="#000"/>
<text x="220.50" y="825.65" font-family="Liberation Sans" font-weight="bold" font-size="11" text-anchor="middle" fill="#000" >PDL1-PE</text>
<rect x="31.80" y="895.60" width="79.00" height="78.80" fill="none" stroke="#9a9a9a" stroke-width="1.1" />
<rect x="56.90" y="902.20" width="47.60" height="56.20" fill="none" stroke="#6a6a6a" stroke-width="1.1" />
<text x="80.00" y="933.02" font-family="Liberation Sans" font-size="9.2" text-anchor="middle" fill="#222" >15.3</text>
<rect x="113.20" y="895.60" width="79.00" height="78.80" fill="none" stroke="#9a9a9a" stroke-width="1.1" />
<rect x="138.30" y="902.20" width="47.30" height="56.20" fill="none" stroke="#6a6a6a" stroke-width="1.1" />
<text x="167.80" y="933.02" font-family="Liberation Sans" font-size="9.2" text-anchor="middle" fill="#222" >39.8</text>
<rect x="195.20" y="895.60" width="79.00" height="78.80" fill="none" stroke="#9a9a9a" stroke-width="1.1" />
<rect x="219.80" y="902.20" width="47.60" height="56.20" fill="none" stroke="#6a6a6a" stroke-width="1.1" />
<text x="242.20" y="933.02" font-family="Liberation Sans" font-size="9.2" text-anchor="middle" fill="#222" >19.7</text>
<rect x="276.60" y="895.60" width="79.00" height="78.80" fill="none" stroke="#9a9a9a" stroke-width="1.1" />
<rect x="301.30" y="902.20" width="47.60" height="56.20" fill="none" stroke="#6a6a6a" stroke-width="1.1" />
<text x="327.10" y="933.02" font-family="Liberation Sans" font-size="9.2" text-anchor="middle" fill="#222" >32.4</text>
<text x="71.50" y="875.35" font-family="Liberation Sans" font-weight="bold" font-size="11" text-anchor="middle" fill="#000" >Vehicle</text>
<text x="152.30" y="875.35" font-family="Liberation Sans" font-weight="bold" font-size="11" text-anchor="middle" fill="#000" >iMQT_020</text>
<text x="234.60" y="869.05" font-family="Liberation Sans" font-weight="bold" font-size="11" text-anchor="middle" fill="#000" >iMQT_020</text>
<text x="234.60" y="881.55" font-family="Liberation Sans" font-weight="bold" font-size="11" text-anchor="middle" fill="#000" >+ DM-<tspan font-family="Liberation Serif" font-weight="normal" font-size="1.12em">&#945;</tspan>KG</text>
<text x="316.20" y="862.25" font-family="Liberation Sans" font-weight="bold" font-size="11" text-anchor="middle" fill="#000" >iMQT_020</text>
<text x="316.20" y="875.45" font-family="Liberation Sans" font-weight="bold" font-size="11" text-anchor="middle" fill="#000" >+ DM-<tspan font-family="Liberation Serif" font-weight="normal" font-size="1.12em">&#945;</tspan>KG</text>
<text x="316.20" y="888.65" font-family="Liberation Sans" font-weight="bold" font-size="11" text-anchor="middle" fill="#000" >+ CPI-455</text>
<ellipse cx="50.48" cy="953.62" rx="2.20" ry="1.60" transform="rotate(-58.1 50.48 953.62)" fill="none" stroke="#3a3a3a" stroke-opacity="0.90" stroke-width="0.6"/>
<ellipse cx="51.19" cy="952.48" rx="3.65" ry="2.10" transform="rotate(-58.1 51.19 952.48)" fill="none" stroke="#3a3a3a" stroke-opacity="0.83" stroke-width="0.6"/>
<ellipse cx="51.90" cy="951.33" rx="5.10" ry="2.60" transform="rotate(-58.1 51.90 951.33)" fill="none" stroke="#3a3a3a" stroke-opacity="0.75" stroke-width="0.6"/>
<ellipse cx="52.61" cy="950.19" rx="6.55" ry="3.10" transform="rotate(-58.1 52.61 950.19)" fill="none" stroke="#3a3a3a" stroke-opacity="0.68" stroke-width="0.6"/>
<ellipse cx="53.33" cy="949.04" rx="7.99" ry="3.60" transform="rotate(-58.1 53.33 949.04)" fill="none" stroke="#3a3a3a" stroke-opacity="0.60" stroke-width="0.6"/>
<ellipse cx="54.04" cy="947.90" rx="9.44" ry="4.10" transform="rotate(-58.1 54.04 947.90)" fill="none" stroke="#3a3a3a" stroke-opacity="0.53" stroke-width="0.6"/>
<ellipse cx="54.75" cy="946.75" rx="10.89" ry="4.60" transform="rotate(-58.1 54.75 946.75)" fill="none" stroke="#3a3a3a" stroke-opacity="0.45" stroke-width="0.6"/>
<ellipse cx="51.43" cy="952.09" rx="4.8" ry="3.0" transform="rotate(-58.1 51.43 952.09)" fill="#3a3a3a" fill-opacity="0.55" filter="url(#b3)"/>
<ellipse cx="51.11" cy="952.60" rx="2.6" ry="1.5" transform="rotate(-58.1 51.43 952.09)" fill="#222" fill-opacity="0.6"/>
<ellipse cx="131.42" cy="954.72" rx="2.20" ry="1.60" transform="rotate(-54.6 131.42 954.72)" fill="none" stroke="#3a3a3a" stroke-opacity="0.90" stroke-width="0.6"/>
<ellipse cx="132.35" cy="953.42" rx="3.85" ry="2.22" transform="rotate(-54.6 132.35 953.42)" fill="none" stroke="#3a3a3a" stroke-opacity="0.85" stroke-width="0.6"/>
<ellipse cx="133.27" cy="952.12" rx="5.50" ry="2.84" transform="rotate(-54.6 133.27 952.12)" fill="none" stroke="#3a3a3a" stroke-opacity="0.81" stroke-width="0.6"/>
<ellipse cx="134.19" cy="950.83" rx="7.15" ry="3.46" transform="rotate(-54.6 134.19 950.83)" fill="none" stroke="#3a3a3a" stroke-opacity="0.77" stroke-width="0.6"/>
<ellipse cx="135.11" cy="949.53" rx="8.81" ry="4.08" transform="rotate(-54.6 135.11 949.53)" fill="none" stroke="#3a3a3a" stroke-opacity="0.72" stroke-width="0.6"/>
<ellipse cx="136.04" cy="948.23" rx="10.46" ry="4.70" transform="rotate(-54.6 136.04 948.23)" fill="none" stroke="#3a3a3a" stroke-opacity="0.68" stroke-width="0.6"/>
<ellipse cx="136.96" cy="946.94" rx="12.11" ry="5.32" transform="rotate(-54.6 136.96 946.94)" fill="none" stroke="#3a3a3a" stroke-opacity="0.63" stroke-width="0.6"/>
<ellipse cx="137.88" cy="945.64" rx="13.76" ry="5.94" transform="rotate(-54.6 137.88 945.64)" fill="none" stroke="#3a3a3a" stroke-opacity="0.58" stroke-width="0.6"/>
<ellipse cx="138.80" cy="944.34" rx="15.41" ry="6.56" transform="rotate(-54.6 138.80 944.34)" fill="none" stroke="#3a3a3a" stroke-opacity="0.54" stroke-width="0.6"/>
<ellipse cx="139.73" cy="943.05" rx="17.06" ry="7.18" transform="rotate(-54.6 139.73 943.05)" fill="none" stroke="#3a3a3a" stroke-opacity="0.49" stroke-width="0.6"/>
<ellipse cx="140.65" cy="941.75" rx="18.72" ry="7.80" transform="rotate(-54.6 140.65 941.75)" fill="none" stroke="#3a3a3a" stroke-opacity="0.45" stroke-width="0.6"/>
<ellipse cx="132.47" cy="953.25" rx="4.8" ry="3.0" transform="rotate(-54.6 132.47 953.25)" fill="#3a3a3a" fill-opacity="0.55" filter="url(#b3)"/>
<ellipse cx="132.12" cy="953.74" rx="2.6" ry="1.5" transform="rotate(-54.6 132.47 953.25)" fill="#222" fill-opacity="0.6"/>
<ellipse cx="213.55" cy="953.75" rx="2.20" ry="1.60" transform="rotate(-61.1 213.55 953.75)" fill="none" stroke="#3a3a3a" stroke-opacity="0.90" stroke-width="0.6"/>
<ellipse cx="214.27" cy="952.44" rx="3.78" ry="2.09" transform="rotate(-61.1 214.27 952.44)" fill="none" stroke="#3a3a3a" stroke-opacity="0.84" stroke-width="0.6"/>
<ellipse cx="214.99" cy="951.13" rx="5.36" ry="2.57" transform="rotate(-61.1 214.99 951.13)" fill="none" stroke="#3a3a3a" stroke-opacity="0.77" stroke-width="0.6"/>
<ellipse cx="215.72" cy="949.83" rx="6.94" ry="3.06" transform="rotate(-61.1 215.72 949.83)" fill="none" stroke="#3a3a3a" stroke-opacity="0.71" stroke-width="0.6"/>
<ellipse cx="216.44" cy="948.52" rx="8.51" ry="3.54" transform="rotate(-61.1 216.44 948.52)" fill="none" stroke="#3a3a3a" stroke-opacity="0.64" stroke-width="0.6"/>
<ellipse cx="217.16" cy="947.21" rx="10.09" ry="4.03" transform="rotate(-61.1 217.16 947.21)" fill="none" stroke="#3a3a3a" stroke-opacity="0.58" stroke-width="0.6"/>
<ellipse cx="217.88" cy="945.91" rx="11.67" ry="4.51" transform="rotate(-61.1 217.88 945.91)" fill="none" stroke="#3a3a3a" stroke-opacity="0.51" stroke-width="0.6"/>
<ellipse cx="218.60" cy="944.60" rx="13.25" ry="5.00" transform="rotate(-61.1 218.60 944.60)" fill="none" stroke="#3a3a3a" stroke-opacity="0.45" stroke-width="0.6"/>
<ellipse cx="214.42" cy="952.17" rx="4.8" ry="3.0" transform="rotate(-61.1 214.42 952.17)" fill="#3a3a3a" fill-opacity="0.55" filter="url(#b3)"/>
<ellipse cx="214.13" cy="952.70" rx="2.6" ry="1.5" transform="rotate(-61.1 214.42 952.17)" fill="#222" fill-opacity="0.6"/>
<ellipse cx="295.27" cy="953.83" rx="2.20" ry="1.60" transform="rotate(-50.9 295.27 953.83)" fill="none" stroke="#3a3a3a" stroke-opacity="0.90" stroke-width="0.6"/>
<ellipse cx="296.09" cy="952.82" rx="3.57" ry="2.16" transform="rotate(-50.9 296.09 952.82)" fill="none" stroke="#3a3a3a" stroke-opacity="0.85" stroke-width="0.6"/>
<ellipse cx="296.91" cy="951.81" rx="4.93" ry="2.71" transform="rotate(-50.9 296.91 951.81)" fill="none" stroke="#3a3a3a" stroke-opacity="0.80" stroke-width="0.6"/>
<ellipse cx="297.73" cy="950.80" rx="6.30" ry="3.27" transform="rotate(-50.9 297.73 950.80)" fill="none" stroke="#3a3a3a" stroke-opacity="0.75" stroke-width="0.6"/>
<ellipse cx="298.55" cy="949.79" rx="7.67" ry="3.82" transform="rotate(-50.9 298.55 949.79)" fill="none" stroke="#3a3a3a" stroke-opacity="0.70" stroke-width="0.6"/>
<ellipse cx="299.37" cy="948.78" rx="9.03" ry="4.38" transform="rotate(-50.9 299.37 948.78)" fill="none" stroke="#3a3a3a" stroke-opacity="0.65" stroke-width="0.6"/>
<ellipse cx="300.19" cy="947.78" rx="10.40" ry="4.93" transform="rotate(-50.9 300.19 947.78)" fill="none" stroke="#3a3a3a" stroke-opacity="0.60" stroke-width="0.6"/>
<ellipse cx="301.01" cy="946.77" rx="11.77" ry="5.49" transform="rotate(-50.9 301.01 946.77)" fill="none" stroke="#3a3a3a" stroke-opacity="0.55" stroke-width="0.6"/>
<ellipse cx="301.83" cy="945.76" rx="13.13" ry="6.04" transform="rotate(-50.9 301.83 945.76)" fill="none" stroke="#3a3a3a" stroke-opacity="0.50" stroke-width="0.6"/>
<ellipse cx="302.65" cy="944.75" rx="14.50" ry="6.60" transform="rotate(-50.9 302.65 944.75)" fill="none" stroke="#3a3a3a" stroke-opacity="0.45" stroke-width="0.6"/>
<ellipse cx="296.40" cy="952.43" rx="4.8" ry="3.0" transform="rotate(-50.9 296.40 952.43)" fill="#3a3a3a" fill-opacity="0.55" filter="url(#b3)"/>
<ellipse cx="296.02" cy="952.90" rx="2.6" ry="1.5" transform="rotate(-50.9 296.40 952.43)" fill="#222" fill-opacity="0.6"/>
<text transform="translate(13.20,943.70) rotate(-90)" x="0" y="3.96" font-family="Liberation Sans" font-weight="bold" font-size="11.3" text-anchor="middle" fill="#000">FSC-A</text>
<line x1="13.70" y1="917.00" x2="13.70" y2="900.00" stroke="#444" stroke-width="1.2" />
<path d="M13.7,893.8 L9.6,901.8 L17.8,901.8 Z" fill="#000"/>
<path d="M13.7,971.4 L13.7,987.3 L159.3,987.3" fill="none" stroke="#444" stroke-width="1.2"/>
<line x1="227.60" y1="987.30" x2="347.50" y2="987.30" stroke="#444" stroke-width="1.2" />
<path d="M354.6,987.3 L346.6,983.7 L346.6,990.9 Z" fill="#000"/>
<text x="192.80" y="991.75" font-family="Liberation Sans" font-weight="bold" font-size="11" text-anchor="middle" fill="#000" >PDL1-PE</text>
<text x="358.20" y="639.50" font-family="Liberation Sans" font-weight="bold" font-size="16" text-anchor="start" fill="#000" >E</text>
<text x="409.40" y="745.45" font-family="Liberation Sans" font-weight="bold" font-size="11" text-anchor="end" fill="#000" >PD-L1</text>
<line x1="420.70" y1="741.10" x2="680.50" y2="741.10" stroke="#000" stroke-width="4.2" />
<line x1="447.00" y1="741.10" x2="447.00" y2="752.70" stroke="#000" stroke-width="2.0" />
<line x1="521.60" y1="741.10" x2="521.60" y2="752.70" stroke="#000" stroke-width="2.0" />
<line x1="595.60" y1="741.10" x2="595.60" y2="752.70" stroke="#000" stroke-width="2.0" />
<line x1="670.50" y1="741.10" x2="670.50" y2="752.70" stroke="#000" stroke-width="2.0" />
<text x="449.00" y="767.67" font-family="Liberation Sans" font-weight="bold" font-size="10.5" text-anchor="middle" fill="#000" >-500</text>
<text x="519.80" y="767.67" font-family="Liberation Sans" font-weight="bold" font-size="10.5" text-anchor="middle" fill="#000" >+1</text>
<text x="595.60" y="767.67" font-family="Liberation Sans" font-weight="bold" font-size="10.5" text-anchor="middle" fill="#000" >+500</text>
<text x="670.20" y="767.67" font-family="Liberation Sans" font-weight="bold" font-size="10.5" text-anchor="middle" fill="#000" >+1000</text>
<path d="M521.6,739 L521.6,665.4 L593,665.4" fill="none" stroke="#000" stroke-width="1.5"/>
<path d="M600.3,665.4 L591.6,661.6 L591.6,669.2 Z" fill="#000"/>
<path d="M456.1,716.7 L509.7,716.7 L504.7,736.4 L461.4,736.4 Z" fill="#fff" stroke="#000" stroke-width="1.3"/>
<text x="483.00" y="730.88" font-family="Liberation Sans" font-weight="bold" font-size="10.5" text-anchor="middle" fill="#000" >ChIP1</text>
<text x="483.50" y="697.45" font-family="Liberation Sans" font-size="11" text-anchor="middle" fill="#222" >-500 ~</text>
<text x="483.50" y="711.05" font-family="Liberation Sans" font-size="11" text-anchor="middle" fill="#222" >-395</text>
<path d="M532.6,716.7 L585.1,716.7 L581.7,736.4 L537.0,736.4 Z" fill="#fff" stroke="#000" stroke-width="1.3"/>
<text x="559.60" y="730.88" font-family="Liberation Sans" font-weight="bold" font-size="10.5" text-anchor="middle" fill="#000" >ChIP2</text>
<text x="558.90" y="694.25" font-family="Liberation Sans" font-size="11" text-anchor="middle" fill="#222" >+218 ~</text>
<text x="559.60" y="707.85" font-family="Liberation Sans" font-size="11" text-anchor="middle" fill="#222" >+313</text>
<path d="M608.8,716.7 L661.9,716.7 L657.9,736.4 L613.2,736.4 Z" fill="#fff" stroke="#000" stroke-width="1.3"/>
<text x="634.80" y="730.88" font-family="Liberation Sans" font-weight="bold" font-size="10.5" text-anchor="middle" fill="#000" >ChIP3</text>
<text x="635.60" y="694.25" font-family="Liberation Sans" font-size="11" text-anchor="middle" fill="#222" >+824 ~</text>
<text x="636.90" y="707.85" font-family="Liberation Sans" font-size="11" text-anchor="middle" fill="#222" >+940</text>
<line x1="501.20" y1="814.00" x2="519.40" y2="814.00" stroke="#828282" stroke-width="1.5" />
<text x="529.90" y="817.01" font-family="Liberation Sans" font-size="8.6" text-anchor="start" fill="#222" >Vehicle</text>
<line x1="501.20" y1="828.50" x2="519.40" y2="828.50" stroke="#f7434a" stroke-width="1.5" />
<text x="529.90" y="831.51" font-family="Liberation Sans" font-size="8.6" text-anchor="start" fill="#222" >iMQT_020</text>
<line x1="501.20" y1="842.70" x2="519.40" y2="842.70" stroke="#1fb976" stroke-width="1.5" />
<text x="529.90" y="845.71" font-family="Liberation Sans" font-size="8.6" text-anchor="start" fill="#222" >iMQT_020 + DM-<tspan font-family="Liberation Serif" font-size="1.12em">&#945;</tspan>KG</text>
<line x1="497.30" y1="854.60" x2="497.30" y2="960.00" stroke="#000" stroke-width="1.8" />
<line x1="496.50" y1="959.20" x2="636.50" y2="959.20" stroke="#000" stroke-width="1.8" />
<line x1="490.20" y1="959.20" x2="498.00" y2="959.20" stroke="#000" stroke-width="1.5" />
<text x="487.80" y="961.65" font-family="Liberation Sans" font-size="7.0" text-anchor="end" fill="#222" >0</text>
<line x1="490.20" y1="933.25" x2="498.00" y2="933.25" stroke="#000" stroke-width="1.5" />
<text x="487.80" y="935.70" font-family="Liberation Sans" font-size="7.0" text-anchor="end" fill="#222" >5</text>
<line x1="490.20" y1="907.30" x2="498.00" y2="907.30" stroke="#000" stroke-width="1.5" />
<text x="487.80" y="909.75" font-family="Liberation Sans" font-size="7.0" text-anchor="end" fill="#222" >10</text>
<line x1="490.20" y1="881.35" x2="498.00" y2="881.35" stroke="#000" stroke-width="1.5" />
<text x="487.80" y="883.80" font-family="Liberation Sans" font-size="7.0" text-anchor="end" fill="#222" >15</text>
<line x1="490.20" y1="855.40" x2="498.00" y2="855.40" stroke="#000" stroke-width="1.5" />
<text x="487.80" y="857.85" font-family="Liberation Sans" font-size="7.0" text-anchor="end" fill="#222" >20</text>
<text transform="translate(456.30,907.50) rotate(-90)" x="0" y="3.88" font-family="Liberation Sans" font-weight="bold" font-size="11.1" text-anchor="middle" fill="#000">H3K4me3 Enrichment</text>
<text transform="translate(469.60,907.50) rotate(-90)" x="0" y="3.88" font-family="Liberation Sans" font-weight="bold" font-size="11.1" text-anchor="middle" fill="#000">% of input</text>
<rect x="501.20" y="917.68" width="8.60" height="41.52" fill="#828282" stroke="none" stroke-width="1" />
<circle cx="504.00" cy="916.12" r="1.90" fill="#828282"/>
<circle cx="507.00" cy="917.68" r="1.90" fill="#828282"/>
<circle cx="508.50" cy="918.20" r="1.90" fill="#828282"/>
<rect x="514.70" y="888.62" width="8.60" height="70.58" fill="#f7434a" stroke="none" stroke-width="1" />
<rect x="516.70" y="882.91" width="4.60" height="6.21" fill="#f7434a" stroke="none" stroke-width="1" />
<circle cx="519.00" cy="888.62" r="1.90" fill="#f7434a"/>
<circle cx="519.00" cy="890.69" r="1.90" fill="#f7434a"/>
<rect x="527.90" y="912.49" width="8.60" height="46.71" fill="#1fb976" stroke="none" stroke-width="1" />
<circle cx="532.20" cy="911.45" r="1.90" fill="#1fb976"/>
<circle cx="534.20" cy="912.49" r="1.90" fill="#1fb976"/>
<circle cx="530.20" cy="913.53" r="1.90" fill="#1fb976"/>
<rect x="549.10" y="908.34" width="8.60" height="50.86" fill="#828282" stroke="none" stroke-width="1" />
<circle cx="551.40" cy="907.82" r="1.90" fill="#828282"/>
<circle cx="554.40" cy="908.34" r="1.90" fill="#828282"/>
<circle cx="556.40" cy="908.86" r="1.90" fill="#828282"/>
<rect x="562.60" y="895.88" width="8.60" height="63.32" fill="#f7434a" stroke="none" stroke-width="1" />
<circle cx="564.90" cy="895.62" r="1.90" fill="#f7434a"/>
<circle cx="567.90" cy="895.88" r="1.90" fill="#f7434a"/>
<circle cx="569.90" cy="896.40" r="1.90" fill="#f7434a"/>
<rect x="575.80" y="908.08" width="8.60" height="51.12" fill="#1fb976" stroke="none" stroke-width="1" />
<circle cx="579.10" cy="907.56" r="1.90" fill="#1fb976"/>
<circle cx="581.10" cy="907.82" r="1.90" fill="#1fb976"/>
<circle cx="582.10" cy="908.34" r="1.90" fill="#1fb976"/>
<rect x="596.90" y="950.38" width="8.60" height="8.82" fill="#828282" stroke="none" stroke-width="1" />
<circle cx="601.20" cy="950.12" r="1.90" fill="#828282"/>
<rect x="610.40" y="946.74" width="8.60" height="12.46" fill="#f7434a" stroke="none" stroke-width="1" />
<circle cx="614.70" cy="946.48" r="1.90" fill="#f7434a"/>
<rect x="623.60" y="951.42" width="8.60" height="7.78" fill="#1fb976" stroke="none" stroke-width="1" />
<circle cx="627.90" cy="951.16" r="1.90" fill="#1fb976"/>
<line x1="518.70" y1="959.20" x2="518.70" y2="966.20" stroke="#000" stroke-width="1.9" />
<line x1="566.60" y1="959.20" x2="566.60" y2="966.20" stroke="#000" stroke-width="1.9" />
<line x1="614.40" y1="959.20" x2="614.40" y2="966.20" stroke="#000" stroke-width="1.9" />
<line x1="505.00" y1="877.60" x2="519.00" y2="877.60" stroke="#111" stroke-width="1.5" />
<path d="M507.51,869.65 L507.51,872.75 M506.17,870.42 L508.86,871.98 M508.86,870.42 L506.17,871.98 " stroke="#111" stroke-width="1.01" stroke-linecap="round"/>
<circle cx="507.51" cy="871.20" r="0.81" fill="#111"/>
<path d="M512.00,869.65 L512.00,872.75 M510.66,870.42 L513.34,871.98 M513.34,870.42 L510.66,871.98 " stroke="#111" stroke-width="1.01" stroke-linecap="round"/>
<circle cx="512.00" cy="871.20" r="0.81" fill="#111"/>
<path d="M516.49,869.65 L516.49,872.75 M515.14,870.42 L517.83,871.98 M517.83,870.42 L515.14,871.98 " stroke="#111" stroke-width="1.01" stroke-linecap="round"/>
<circle cx="516.49" cy="871.20" r="0.81" fill="#111"/>
<line x1="519.00" y1="863.80" x2="533.00" y2="863.80" stroke="#111" stroke-width="1.5" />
<path d="M521.51,856.85 L521.51,859.95 M520.17,857.62 L522.86,859.18 M522.86,857.62 L520.17,859.18 " stroke="#111" stroke-width="1.01" stroke-linecap="round"/>
<circle cx="521.51" cy="858.40" r="0.81" fill="#111"/>
<path d="M526.00,856.85 L526.00,859.95 M524.66,857.62 L527.34,859.18 M527.34,857.62 L524.66,859.18 " stroke="#111" stroke-width="1.01" stroke-linecap="round"/>
<circle cx="526.00" cy="858.40" r="0.81" fill="#111"/>
<path d="M530.49,856.85 L530.49,859.95 M529.14,857.62 L531.83,859.18 M531.83,857.62 L529.14,859.18 " stroke="#111" stroke-width="1.01" stroke-linecap="round"/>
<circle cx="530.49" cy="858.40" r="0.81" fill="#111"/>
<line x1="552.80" y1="886.40" x2="566.80" y2="886.40" stroke="#111" stroke-width="1.5" />
<path d="M559.80,879.05 L559.80,882.15 M558.46,879.82 L561.14,881.38 M561.14,879.82 L558.46,881.38 " stroke="#111" stroke-width="1.01" stroke-linecap="round"/>
<circle cx="559.80" cy="880.60" r="0.81" fill="#111"/>
<line x1="567.30" y1="872.90" x2="580.90" y2="872.90" stroke="#111" stroke-width="1.5" />
<path d="M574.10,865.05 L574.10,868.15 M572.76,865.82 L575.44,867.38 M575.44,865.82 L572.76,867.38 " stroke="#111" stroke-width="1.01" stroke-linecap="round"/>
<circle cx="574.10" cy="866.60" r="0.81" fill="#111"/>
<line x1="600.00" y1="941.00" x2="613.40" y2="941.00" stroke="#111" stroke-width="1.5" />
<path d="M604.46,933.05 L604.46,936.15 M603.11,933.82 L605.80,935.38 M605.80,933.82 L603.11,935.38 " stroke="#111" stroke-width="1.01" stroke-linecap="round"/>
<circle cx="604.46" cy="934.60" r="0.81" fill="#111"/>
<path d="M608.94,933.05 L608.94,936.15 M607.60,933.82 L610.29,935.38 M610.29,933.82 L607.60,935.38 " stroke="#111" stroke-width="1.01" stroke-linecap="round"/>
<circle cx="608.94" cy="934.60" r="0.81" fill="#111"/>
<line x1="614.40" y1="930.40" x2="627.90" y2="930.40" stroke="#111" stroke-width="1.5" />
<path d="M618.91,922.45 L618.91,925.55 M617.56,923.22 L620.25,924.78 M620.25,923.22 L617.56,924.78 " stroke="#111" stroke-width="1.01" stroke-linecap="round"/>
<circle cx="618.91" cy="924.00" r="0.81" fill="#111"/>
<path d="M623.39,922.45 L623.39,925.55 M622.05,923.22 L624.74,924.78 M624.74,923.22 L622.05,924.78 " stroke="#111" stroke-width="1.01" stroke-linecap="round"/>
<circle cx="623.39" cy="924.00" r="0.81" fill="#111"/>
<text transform="translate(519.70,973.00) rotate(-45)" x="0" y="3.8" font-family="Liberation Sans" font-weight="bold" font-size="11" text-anchor="end">PD-L1 ChIP-1</text>
<text transform="translate(567.60,973.00) rotate(-45)" x="0" y="3.8" font-family="Liberation Sans" font-weight="bold" font-size="11" text-anchor="end">PD-L1 ChIP-1</text>
<text transform="translate(615.40,973.00) rotate(-45)" x="0" y="3.8" font-family="Liberation Sans" font-weight="bold" font-size="11" text-anchor="end">PD-L1 ChIP-3</text>
</svg></body></html>
